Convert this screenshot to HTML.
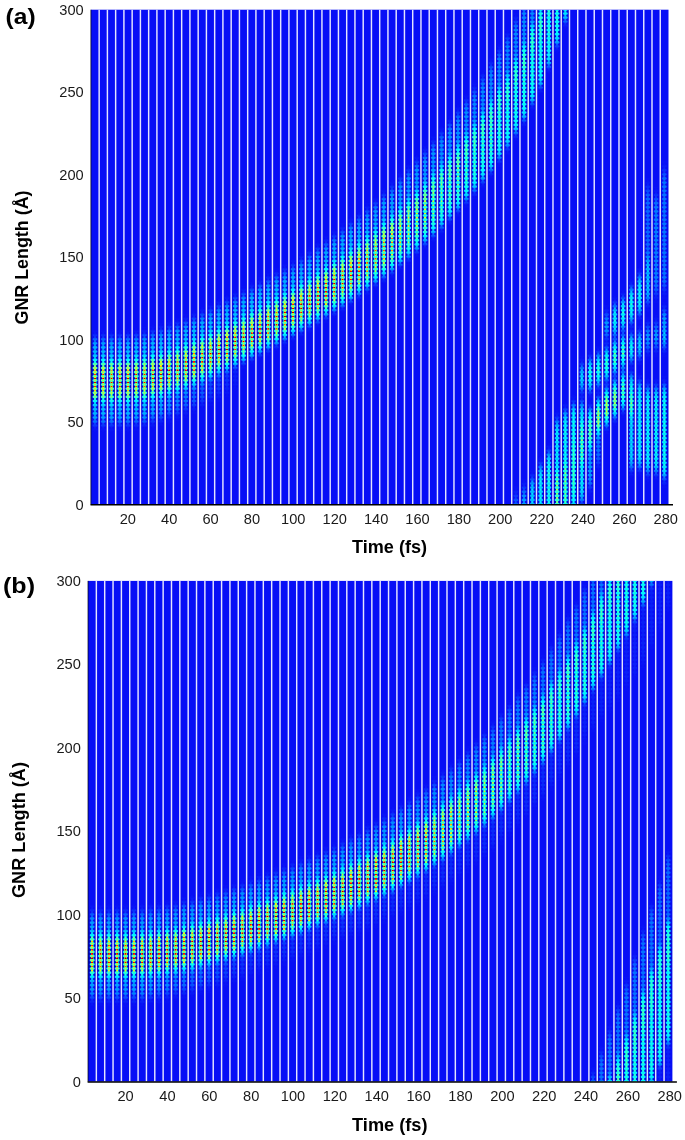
<!DOCTYPE html>
<html lang="en"><head><meta charset="utf-8"><title>GNR wave packet propagation</title>
<style>html,body{margin:0;padding:0;background:#fff}body{width:685px;height:1140px;overflow:hidden}svg{display:block}</style></head>
<body>
<svg width="685" height="1140" viewBox="0 0 685 1140">
<defs><g id="lca"><rect width="8.271" height="4.142" fill="#000"/><rect x="3.03" width="2" height="4.122" fill="#c8c8c8"/><ellipse cx="4.13" cy="1.03" rx="2.45" ry="1.4" fill="#fff"/></g><g id="kca"><ellipse cx="4.13" cy="3.09" rx="1.3" ry=".85" fill="#fff"/></g><g id="nca"><rect x=".7" width="1.03" height="4.142" fill="#5a5a5a"/><rect x="6.53" width="1.03" height="4.142" fill="#5a5a5a"/><rect x=".7" y="2.19" width="2.33" height="1.8" fill="#fff"/><rect x="5.23" y="2.19" width="2.33" height="1.8" fill="#fff"/></g><g id="lra"><use href="#lca" x="0"/><use href="#lca" x="8.251"/><use href="#lca" x="16.503"/><use href="#lca" x="24.754"/><use href="#lca" x="33.006"/><use href="#lca" x="41.257"/><use href="#lca" x="49.509"/><use href="#lca" x="57.76"/><use href="#lca" x="66.011"/><use href="#lca" x="74.263"/><use href="#lca" x="82.514"/><use href="#lca" x="90.766"/><use href="#lca" x="99.017"/><use href="#lca" x="107.269"/><use href="#lca" x="115.52"/><use href="#lca" x="123.771"/><use href="#lca" x="132.023"/><use href="#lca" x="140.274"/><use href="#lca" x="148.526"/><use href="#lca" x="156.777"/><use href="#lca" x="165.029"/><use href="#lca" x="173.28"/><use href="#lca" x="181.531"/><use href="#lca" x="189.783"/><use href="#lca" x="198.034"/><use href="#lca" x="206.286"/><use href="#lca" x="214.537"/><use href="#lca" x="222.789"/><use href="#lca" x="231.04"/><use href="#lca" x="239.291"/><use href="#lca" x="247.543"/><use href="#lca" x="255.794"/><use href="#lca" x="264.046"/><use href="#lca" x="272.297"/><use href="#lca" x="280.549"/><use href="#lca" x="288.8"/><use href="#lca" x="297.051"/><use href="#lca" x="305.303"/><use href="#lca" x="313.554"/><use href="#lca" x="321.806"/><use href="#lca" x="330.057"/><use href="#lca" x="338.309"/><use href="#lca" x="346.56"/><use href="#lca" x="354.811"/><use href="#lca" x="363.063"/><use href="#lca" x="371.314"/><use href="#lca" x="379.566"/><use href="#lca" x="387.817"/><use href="#lca" x="396.069"/><use href="#lca" x="404.32"/><use href="#lca" x="412.571"/><use href="#lca" x="420.823"/><use href="#lca" x="429.074"/><use href="#lca" x="437.326"/><use href="#lca" x="445.577"/><use href="#lca" x="453.829"/><use href="#lca" x="462.08"/><use href="#lca" x="470.331"/><use href="#lca" x="478.583"/><use href="#lca" x="486.834"/><use href="#lca" x="495.086"/><use href="#lca" x="503.337"/><use href="#lca" x="511.589"/><use href="#lca" x="519.84"/><use href="#lca" x="528.091"/><use href="#lca" x="536.343"/><use href="#lca" x="544.594"/><use href="#lca" x="552.846"/><use href="#lca" x="561.097"/><use href="#lca" x="569.349"/></g><g id="kra"><use href="#kca" x="0"/><use href="#kca" x="8.251"/><use href="#kca" x="16.503"/><use href="#kca" x="24.754"/><use href="#kca" x="33.006"/><use href="#kca" x="41.257"/><use href="#kca" x="49.509"/><use href="#kca" x="57.76"/><use href="#kca" x="66.011"/><use href="#kca" x="74.263"/><use href="#kca" x="82.514"/><use href="#kca" x="90.766"/><use href="#kca" x="99.017"/><use href="#kca" x="107.269"/><use href="#kca" x="115.52"/><use href="#kca" x="123.771"/><use href="#kca" x="132.023"/><use href="#kca" x="140.274"/><use href="#kca" x="148.526"/><use href="#kca" x="156.777"/><use href="#kca" x="165.029"/><use href="#kca" x="173.28"/><use href="#kca" x="181.531"/><use href="#kca" x="189.783"/><use href="#kca" x="198.034"/><use href="#kca" x="206.286"/><use href="#kca" x="214.537"/><use href="#kca" x="222.789"/><use href="#kca" x="231.04"/><use href="#kca" x="239.291"/><use href="#kca" x="247.543"/><use href="#kca" x="255.794"/><use href="#kca" x="264.046"/><use href="#kca" x="272.297"/><use href="#kca" x="280.549"/><use href="#kca" x="288.8"/><use href="#kca" x="297.051"/><use href="#kca" x="305.303"/><use href="#kca" x="313.554"/><use href="#kca" x="321.806"/><use href="#kca" x="330.057"/><use href="#kca" x="338.309"/><use href="#kca" x="346.56"/><use href="#kca" x="354.811"/><use href="#kca" x="363.063"/><use href="#kca" x="371.314"/><use href="#kca" x="379.566"/><use href="#kca" x="387.817"/><use href="#kca" x="396.069"/><use href="#kca" x="404.32"/><use href="#kca" x="412.571"/><use href="#kca" x="420.823"/><use href="#kca" x="429.074"/><use href="#kca" x="437.326"/><use href="#kca" x="445.577"/><use href="#kca" x="453.829"/><use href="#kca" x="462.08"/><use href="#kca" x="470.331"/><use href="#kca" x="478.583"/><use href="#kca" x="486.834"/><use href="#kca" x="495.086"/><use href="#kca" x="503.337"/><use href="#kca" x="511.589"/><use href="#kca" x="519.84"/><use href="#kca" x="528.091"/><use href="#kca" x="536.343"/><use href="#kca" x="544.594"/><use href="#kca" x="552.846"/><use href="#kca" x="561.097"/><use href="#kca" x="569.349"/></g><g id="nra"><use href="#nca" x="0"/><use href="#nca" x="8.251"/><use href="#nca" x="16.503"/><use href="#nca" x="24.754"/><use href="#nca" x="33.006"/><use href="#nca" x="41.257"/><use href="#nca" x="49.509"/><use href="#nca" x="57.76"/><use href="#nca" x="66.011"/><use href="#nca" x="74.263"/><use href="#nca" x="82.514"/><use href="#nca" x="90.766"/><use href="#nca" x="99.017"/><use href="#nca" x="107.269"/><use href="#nca" x="115.52"/><use href="#nca" x="123.771"/><use href="#nca" x="132.023"/><use href="#nca" x="140.274"/><use href="#nca" x="148.526"/><use href="#nca" x="156.777"/><use href="#nca" x="165.029"/><use href="#nca" x="173.28"/><use href="#nca" x="181.531"/><use href="#nca" x="189.783"/><use href="#nca" x="198.034"/><use href="#nca" x="206.286"/><use href="#nca" x="214.537"/><use href="#nca" x="222.789"/><use href="#nca" x="231.04"/><use href="#nca" x="239.291"/><use href="#nca" x="247.543"/><use href="#nca" x="255.794"/><use href="#nca" x="264.046"/><use href="#nca" x="272.297"/><use href="#nca" x="280.549"/><use href="#nca" x="288.8"/><use href="#nca" x="297.051"/><use href="#nca" x="305.303"/><use href="#nca" x="313.554"/><use href="#nca" x="321.806"/><use href="#nca" x="330.057"/><use href="#nca" x="338.309"/><use href="#nca" x="346.56"/><use href="#nca" x="354.811"/><use href="#nca" x="363.063"/><use href="#nca" x="371.314"/><use href="#nca" x="379.566"/><use href="#nca" x="387.817"/><use href="#nca" x="396.069"/><use href="#nca" x="404.32"/><use href="#nca" x="412.571"/><use href="#nca" x="420.823"/><use href="#nca" x="429.074"/><use href="#nca" x="437.326"/><use href="#nca" x="445.577"/><use href="#nca" x="453.829"/><use href="#nca" x="462.08"/><use href="#nca" x="470.331"/><use href="#nca" x="478.583"/><use href="#nca" x="486.834"/><use href="#nca" x="495.086"/><use href="#nca" x="503.337"/><use href="#nca" x="511.589"/><use href="#nca" x="519.84"/><use href="#nca" x="528.091"/><use href="#nca" x="536.343"/><use href="#nca" x="544.594"/><use href="#nca" x="552.846"/><use href="#nca" x="561.097"/><use href="#nca" x="569.349"/></g></defs>
<clipPath id="cpa"><rect x="90.9" y="9.7" width="577.6" height="494.8"/></clipPath>
<filter id="pba" filterUnits="userSpaceOnUse" x="-5" y="-5" width="587.6" height="504.8" color-interpolation-filters="sRGB"><feGaussianBlur stdDeviation=".26"/></filter>
<mask id="m1a" maskUnits="userSpaceOnUse" x="90.9" y="9.7" width="577.6" height="494.8"><g filter="url(#pba)" transform="translate(90.9 9.7)"><use href="#lra" y="-1.236"/><use href="#lra" y="2.885"/><use href="#lra" y="7.007"/><use href="#lra" y="11.128"/><use href="#lra" y="15.25"/><use href="#lra" y="19.371"/><use href="#lra" y="23.493"/><use href="#lra" y="27.615"/><use href="#lra" y="31.736"/><use href="#lra" y="35.858"/><use href="#lra" y="39.979"/><use href="#lra" y="44.101"/><use href="#lra" y="48.223"/><use href="#lra" y="52.344"/><use href="#lra" y="56.466"/><use href="#lra" y="60.587"/><use href="#lra" y="64.709"/><use href="#lra" y="68.83"/><use href="#lra" y="72.952"/><use href="#lra" y="77.074"/><use href="#lra" y="81.195"/><use href="#lra" y="85.317"/><use href="#lra" y="89.438"/><use href="#lra" y="93.56"/><use href="#lra" y="97.682"/><use href="#lra" y="101.803"/><use href="#lra" y="105.925"/><use href="#lra" y="110.046"/><use href="#lra" y="114.168"/><use href="#lra" y="118.289"/><use href="#lra" y="122.411"/><use href="#lra" y="126.533"/><use href="#lra" y="130.654"/><use href="#lra" y="134.776"/><use href="#lra" y="138.897"/><use href="#lra" y="143.019"/><use href="#lra" y="147.141"/><use href="#lra" y="151.262"/><use href="#lra" y="155.384"/><use href="#lra" y="159.505"/><use href="#lra" y="163.627"/><use href="#lra" y="167.749"/><use href="#lra" y="171.87"/><use href="#lra" y="175.992"/><use href="#lra" y="180.113"/><use href="#lra" y="184.235"/><use href="#lra" y="188.356"/><use href="#lra" y="192.478"/><use href="#lra" y="196.6"/><use href="#lra" y="200.721"/><use href="#lra" y="204.843"/><use href="#lra" y="208.964"/><use href="#lra" y="213.086"/><use href="#lra" y="217.208"/><use href="#lra" y="221.329"/><use href="#lra" y="225.451"/><use href="#lra" y="229.572"/><use href="#lra" y="233.694"/><use href="#lra" y="237.815"/><use href="#lra" y="241.937"/><use href="#lra" y="246.059"/><use href="#lra" y="250.18"/><use href="#lra" y="254.302"/><use href="#lra" y="258.423"/><use href="#lra" y="262.545"/><use href="#lra" y="266.667"/><use href="#lra" y="270.788"/><use href="#lra" y="274.91"/><use href="#lra" y="279.031"/><use href="#lra" y="283.153"/><use href="#lra" y="287.274"/><use href="#lra" y="291.396"/><use href="#lra" y="295.518"/><use href="#lra" y="299.639"/><use href="#lra" y="303.761"/><use href="#lra" y="307.882"/><use href="#lra" y="312.004"/><use href="#lra" y="316.126"/><use href="#lra" y="320.247"/><use href="#lra" y="324.369"/><use href="#lra" y="328.49"/><use href="#lra" y="332.612"/><use href="#lra" y="336.733"/><use href="#lra" y="340.855"/><use href="#lra" y="344.977"/><use href="#lra" y="349.098"/><use href="#lra" y="353.22"/><use href="#lra" y="357.341"/><use href="#lra" y="361.463"/><use href="#lra" y="365.585"/><use href="#lra" y="369.706"/><use href="#lra" y="373.828"/><use href="#lra" y="377.949"/><use href="#lra" y="382.071"/><use href="#lra" y="386.192"/><use href="#lra" y="390.314"/><use href="#lra" y="394.436"/><use href="#lra" y="398.557"/><use href="#lra" y="402.679"/><use href="#lra" y="406.8"/><use href="#lra" y="410.922"/><use href="#lra" y="415.044"/><use href="#lra" y="419.165"/><use href="#lra" y="423.287"/><use href="#lra" y="427.408"/><use href="#lra" y="431.53"/><use href="#lra" y="435.652"/><use href="#lra" y="439.773"/><use href="#lra" y="443.895"/><use href="#lra" y="448.016"/><use href="#lra" y="452.138"/><use href="#lra" y="456.259"/><use href="#lra" y="460.381"/><use href="#lra" y="464.503"/><use href="#lra" y="468.624"/><use href="#lra" y="472.746"/><use href="#lra" y="476.867"/><use href="#lra" y="480.989"/><use href="#lra" y="485.111"/><use href="#lra" y="489.232"/><use href="#lra" y="493.354"/><use href="#lra" y="497.475"/></g></mask>
<mask id="m2a" maskUnits="userSpaceOnUse" x="90.9" y="9.7" width="577.6" height="494.8"><g filter="url(#pba)" transform="translate(90.9 9.7)"><use href="#kra" y="-1.236"/><use href="#kra" y="2.885"/><use href="#kra" y="7.007"/><use href="#kra" y="11.128"/><use href="#kra" y="15.25"/><use href="#kra" y="19.371"/><use href="#kra" y="23.493"/><use href="#kra" y="27.615"/><use href="#kra" y="31.736"/><use href="#kra" y="35.858"/><use href="#kra" y="39.979"/><use href="#kra" y="44.101"/><use href="#kra" y="48.223"/><use href="#kra" y="52.344"/><use href="#kra" y="56.466"/><use href="#kra" y="60.587"/><use href="#kra" y="64.709"/><use href="#kra" y="68.83"/><use href="#kra" y="72.952"/><use href="#kra" y="77.074"/><use href="#kra" y="81.195"/><use href="#kra" y="85.317"/><use href="#kra" y="89.438"/><use href="#kra" y="93.56"/><use href="#kra" y="97.682"/><use href="#kra" y="101.803"/><use href="#kra" y="105.925"/><use href="#kra" y="110.046"/><use href="#kra" y="114.168"/><use href="#kra" y="118.289"/><use href="#kra" y="122.411"/><use href="#kra" y="126.533"/><use href="#kra" y="130.654"/><use href="#kra" y="134.776"/><use href="#kra" y="138.897"/><use href="#kra" y="143.019"/><use href="#kra" y="147.141"/><use href="#kra" y="151.262"/><use href="#kra" y="155.384"/><use href="#kra" y="159.505"/><use href="#kra" y="163.627"/><use href="#kra" y="167.749"/><use href="#kra" y="171.87"/><use href="#kra" y="175.992"/><use href="#kra" y="180.113"/><use href="#kra" y="184.235"/><use href="#kra" y="188.356"/><use href="#kra" y="192.478"/><use href="#kra" y="196.6"/><use href="#kra" y="200.721"/><use href="#kra" y="204.843"/><use href="#kra" y="208.964"/><use href="#kra" y="213.086"/><use href="#kra" y="217.208"/><use href="#kra" y="221.329"/><use href="#kra" y="225.451"/><use href="#kra" y="229.572"/><use href="#kra" y="233.694"/><use href="#kra" y="237.815"/><use href="#kra" y="241.937"/><use href="#kra" y="246.059"/><use href="#kra" y="250.18"/><use href="#kra" y="254.302"/><use href="#kra" y="258.423"/><use href="#kra" y="262.545"/><use href="#kra" y="266.667"/><use href="#kra" y="270.788"/><use href="#kra" y="274.91"/><use href="#kra" y="279.031"/><use href="#kra" y="283.153"/><use href="#kra" y="287.274"/><use href="#kra" y="291.396"/><use href="#kra" y="295.518"/><use href="#kra" y="299.639"/><use href="#kra" y="303.761"/><use href="#kra" y="307.882"/><use href="#kra" y="312.004"/><use href="#kra" y="316.126"/><use href="#kra" y="320.247"/><use href="#kra" y="324.369"/><use href="#kra" y="328.49"/><use href="#kra" y="332.612"/><use href="#kra" y="336.733"/><use href="#kra" y="340.855"/><use href="#kra" y="344.977"/><use href="#kra" y="349.098"/><use href="#kra" y="353.22"/><use href="#kra" y="357.341"/><use href="#kra" y="361.463"/><use href="#kra" y="365.585"/><use href="#kra" y="369.706"/><use href="#kra" y="373.828"/><use href="#kra" y="377.949"/><use href="#kra" y="382.071"/><use href="#kra" y="386.192"/><use href="#kra" y="390.314"/><use href="#kra" y="394.436"/><use href="#kra" y="398.557"/><use href="#kra" y="402.679"/><use href="#kra" y="406.8"/><use href="#kra" y="410.922"/><use href="#kra" y="415.044"/><use href="#kra" y="419.165"/><use href="#kra" y="423.287"/><use href="#kra" y="427.408"/><use href="#kra" y="431.53"/><use href="#kra" y="435.652"/><use href="#kra" y="439.773"/><use href="#kra" y="443.895"/><use href="#kra" y="448.016"/><use href="#kra" y="452.138"/><use href="#kra" y="456.259"/><use href="#kra" y="460.381"/><use href="#kra" y="464.503"/><use href="#kra" y="468.624"/><use href="#kra" y="472.746"/><use href="#kra" y="476.867"/><use href="#kra" y="480.989"/><use href="#kra" y="485.111"/><use href="#kra" y="489.232"/><use href="#kra" y="493.354"/><use href="#kra" y="497.475"/></g></mask>
<mask id="m3a" maskUnits="userSpaceOnUse" x="90.9" y="9.7" width="577.6" height="494.8"><g filter="url(#pba)" transform="translate(90.9 9.7)"><use href="#nra" y="-1.236"/><use href="#nra" y="2.885"/><use href="#nra" y="7.007"/><use href="#nra" y="11.128"/><use href="#nra" y="15.25"/><use href="#nra" y="19.371"/><use href="#nra" y="23.493"/><use href="#nra" y="27.615"/><use href="#nra" y="31.736"/><use href="#nra" y="35.858"/><use href="#nra" y="39.979"/><use href="#nra" y="44.101"/><use href="#nra" y="48.223"/><use href="#nra" y="52.344"/><use href="#nra" y="56.466"/><use href="#nra" y="60.587"/><use href="#nra" y="64.709"/><use href="#nra" y="68.83"/><use href="#nra" y="72.952"/><use href="#nra" y="77.074"/><use href="#nra" y="81.195"/><use href="#nra" y="85.317"/><use href="#nra" y="89.438"/><use href="#nra" y="93.56"/><use href="#nra" y="97.682"/><use href="#nra" y="101.803"/><use href="#nra" y="105.925"/><use href="#nra" y="110.046"/><use href="#nra" y="114.168"/><use href="#nra" y="118.289"/><use href="#nra" y="122.411"/><use href="#nra" y="126.533"/><use href="#nra" y="130.654"/><use href="#nra" y="134.776"/><use href="#nra" y="138.897"/><use href="#nra" y="143.019"/><use href="#nra" y="147.141"/><use href="#nra" y="151.262"/><use href="#nra" y="155.384"/><use href="#nra" y="159.505"/><use href="#nra" y="163.627"/><use href="#nra" y="167.749"/><use href="#nra" y="171.87"/><use href="#nra" y="175.992"/><use href="#nra" y="180.113"/><use href="#nra" y="184.235"/><use href="#nra" y="188.356"/><use href="#nra" y="192.478"/><use href="#nra" y="196.6"/><use href="#nra" y="200.721"/><use href="#nra" y="204.843"/><use href="#nra" y="208.964"/><use href="#nra" y="213.086"/><use href="#nra" y="217.208"/><use href="#nra" y="221.329"/><use href="#nra" y="225.451"/><use href="#nra" y="229.572"/><use href="#nra" y="233.694"/><use href="#nra" y="237.815"/><use href="#nra" y="241.937"/><use href="#nra" y="246.059"/><use href="#nra" y="250.18"/><use href="#nra" y="254.302"/><use href="#nra" y="258.423"/><use href="#nra" y="262.545"/><use href="#nra" y="266.667"/><use href="#nra" y="270.788"/><use href="#nra" y="274.91"/><use href="#nra" y="279.031"/><use href="#nra" y="283.153"/><use href="#nra" y="287.274"/><use href="#nra" y="291.396"/><use href="#nra" y="295.518"/><use href="#nra" y="299.639"/><use href="#nra" y="303.761"/><use href="#nra" y="307.882"/><use href="#nra" y="312.004"/><use href="#nra" y="316.126"/><use href="#nra" y="320.247"/><use href="#nra" y="324.369"/><use href="#nra" y="328.49"/><use href="#nra" y="332.612"/><use href="#nra" y="336.733"/><use href="#nra" y="340.855"/><use href="#nra" y="344.977"/><use href="#nra" y="349.098"/><use href="#nra" y="353.22"/><use href="#nra" y="357.341"/><use href="#nra" y="361.463"/><use href="#nra" y="365.585"/><use href="#nra" y="369.706"/><use href="#nra" y="373.828"/><use href="#nra" y="377.949"/><use href="#nra" y="382.071"/><use href="#nra" y="386.192"/><use href="#nra" y="390.314"/><use href="#nra" y="394.436"/><use href="#nra" y="398.557"/><use href="#nra" y="402.679"/><use href="#nra" y="406.8"/><use href="#nra" y="410.922"/><use href="#nra" y="415.044"/><use href="#nra" y="419.165"/><use href="#nra" y="423.287"/><use href="#nra" y="427.408"/><use href="#nra" y="431.53"/><use href="#nra" y="435.652"/><use href="#nra" y="439.773"/><use href="#nra" y="443.895"/><use href="#nra" y="448.016"/><use href="#nra" y="452.138"/><use href="#nra" y="456.259"/><use href="#nra" y="460.381"/><use href="#nra" y="464.503"/><use href="#nra" y="468.624"/><use href="#nra" y="472.746"/><use href="#nra" y="476.867"/><use href="#nra" y="480.989"/><use href="#nra" y="485.111"/><use href="#nra" y="489.232"/><use href="#nra" y="493.354"/><use href="#nra" y="497.475"/></g></mask>
<filter id="v1a" filterUnits="userSpaceOnUse" x="85.9" y="-190.3" width="587.6" height="894.8" color-interpolation-filters="sRGB"><feGaussianBlur stdDeviation="0 5"/></filter>
<filter id="v2a" filterUnits="userSpaceOnUse" x="85.9" y="-190.3" width="587.6" height="894.8" color-interpolation-filters="sRGB"><feGaussianBlur stdDeviation="0 6"/></filter>
<filter id="vea" filterUnits="userSpaceOnUse" x="85.9" y="-190.3" width="587.6" height="894.8" color-interpolation-filters="sRGB"><feGaussianBlur stdDeviation="0 5.5"/></filter>
<filter id="jeta" filterUnits="userSpaceOnUse" x="87.9" y="6.7" width="583.6" height="500.8" color-interpolation-filters="sRGB"><feComponentTransfer><feFuncR type="table" tableValues=".031 .034 .037 .039 .037 .035 .033 .031 .025 .019 .013 .006 0 0 0 0 0 0 0 0 0 0 0 0 0 0 0 0 0 0 0 .02 .039 .059 .078 .098 .118 .137 .157 .191 .225 .26 .294 .328 .363 .397 .431 .466 .501 .536 .571 .606 .641 .675 .71 .745 .777 .809 .841 .873 .904 .936 .968 1 1 1 1 1 1 1 1 1 1 1 1 1 1 1 1 1 1 1 1 1 1 1 1 1 .98 .961 .941 .922 .902 .882 .863 .817 .771 .725 .68 .634 .588"/><feFuncG type="table" tableValues=".055 .089 .123 .157 .198 .239 .28 .322 .363 .405 .446 .488 .529 .559 .588 .618 .647 .676 .706 .735 .765 .784 .804 .824 .843 .863 .882 .902 .922 .941 .961 .966 .971 .975 .98 .985 .99 .995 1 1 1 1 1 1 1 1 1 1 1 1 1 1 1 1 1 1 .993 .985 .978 .971 .963 .956 .949 .941 .908 .876 .843 .81 .778 .745 .712 .68 .647 .614 .582 .549 .513 .477 .441 .405 .369 .333 .297 .261 .225 .19 .154 .118 .101 .084 .067 .05 .034 .017 0 0 0 0 0 0 0"/><feFuncB type="table" tableValues=".965 .97 .975 .98 .985 .99 .995 1 1 1 1 1 1 1 1 1 1 1 1 1 1 1 1 1 1 1 1 1 1 1 1 .98 .961 .941 .922 .902 .882 .863 .843 .809 .775 .74 .706 .672 .637 .603 .569 .534 .499 .464 .429 .394 .359 .325 .29 .255 .223 .191 .159 .127 .096 .064 .032 0 0 0 0 0 0 0 0 0 0 0 0 0 0 0 0 0 0 0 0 0 0 0 0 0 0 0 0 0 0 0 0 0 0 0 0 0 0"/></feComponentTransfer><feGaussianBlur stdDeviation=".68"/></filter>
<g filter="url(#jeta)">
<rect x="90.9" y="9.7" width="577.6" height="494.8" fill="#000"/>
<g mask="url(#m1a)"><g clip-path="url(#cpa)" fill="#fff"><g id="cha"><g filter="url(#v1a)">
<rect x="90.9" y="362.1" width="8.25" height="37.3" opacity=".47"/>
<rect x="90.9" y="339.5" width="8.25" height="32.7" opacity=".18"/>
<rect x="90.9" y="389.4" width="8.25" height="32.7" opacity=".18"/>
<rect x="99.15" y="362.1" width="8.25" height="37.4" opacity=".47"/>
<rect x="99.15" y="339.4" width="8.25" height="32.8" opacity=".18"/>
<rect x="99.15" y="389.4" width="8.25" height="32.8" opacity=".18"/>
<rect x="107.4" y="362.1" width="8.25" height="37.5" opacity=".47"/>
<rect x="107.4" y="339.3" width="8.25" height="32.9" opacity=".18"/>
<rect x="107.4" y="389.4" width="8.25" height="32.9" opacity=".18"/>
<rect x="115.65" y="361.9" width="8.25" height="37.5" opacity=".47"/>
<rect x="115.65" y="339.1" width="8.25" height="32.9" opacity=".18"/>
<rect x="115.65" y="389.2" width="8.25" height="32.9" opacity=".18"/>
<rect x="123.91" y="361.7" width="8.25" height="37.6" opacity=".46"/>
<rect x="123.91" y="338.9" width="8.25" height="33" opacity=".18"/>
<rect x="123.91" y="389.1" width="8.25" height="33" opacity=".18"/>
<rect x="132.16" y="360.7" width="8.25" height="37.7" opacity=".46"/>
<rect x="132.16" y="337.9" width="8.25" height="33.1" opacity=".18"/>
<rect x="132.16" y="388.2" width="8.25" height="33.1" opacity=".18"/>
<rect x="140.41" y="359.8" width="8.25" height="37.8" opacity=".46"/>
<rect x="140.41" y="336.9" width="8.25" height="33.1" opacity=".18"/>
<rect x="140.41" y="387.3" width="8.25" height="33.1" opacity=".18"/>
<rect x="148.66" y="357.8" width="8.25" height="37.8" opacity=".46"/>
<rect x="148.66" y="334.9" width="8.25" height="33.2" opacity=".18"/>
<rect x="148.66" y="385.4" width="8.25" height="33.2" opacity=".16"/>
<rect x="156.91" y="355.9" width="8.25" height="37.9" opacity=".46"/>
<rect x="156.91" y="333" width="8.25" height="33.3" opacity=".18"/>
<rect x="156.91" y="383.5" width="8.25" height="33.3" opacity=".15"/>
<rect x="165.16" y="353.2" width="8.25" height="38" opacity=".46"/>
<rect x="165.16" y="330.2" width="8.25" height="33.3" opacity=".18"/>
<rect x="165.16" y="380.9" width="8.25" height="33.3" opacity=".13"/>
<rect x="173.41" y="350.6" width="8.25" height="38.1" opacity=".46"/>
<rect x="173.41" y="327.5" width="8.25" height="33.4" opacity=".18"/>
<rect x="173.41" y="378.2" width="8.25" height="33.4" opacity=".12"/>
<rect x="181.67" y="347.1" width="8.25" height="38.1" opacity=".46"/>
<rect x="181.67" y="324.1" width="8.25" height="33.5" opacity=".18"/>
<rect x="181.67" y="374.9" width="8.25" height="33.5" opacity=".11"/>
<rect x="189.92" y="343.7" width="8.25" height="38.2" opacity=".46"/>
<rect x="189.92" y="320.6" width="8.25" height="33.6" opacity=".18"/>
<rect x="189.92" y="371.5" width="8.25" height="33.6" opacity=".09"/>
<rect x="198.17" y="339.9" width="8.25" height="38.3" opacity=".46"/>
<rect x="198.17" y="316.7" width="8.25" height="33.6" opacity=".18"/>
<rect x="198.17" y="367.7" width="8.25" height="33.6" opacity=".08"/>
<rect x="206.42" y="336.1" width="8.25" height="38.4" opacity=".46"/>
<rect x="206.42" y="312.9" width="8.25" height="33.7" opacity=".18"/>
<rect x="206.42" y="363.9" width="8.25" height="33.7" opacity=".06"/>
<rect x="214.67" y="332" width="8.25" height="38.4" opacity=".46"/>
<rect x="214.67" y="308.8" width="8.25" height="33.8" opacity=".18"/>
<rect x="214.67" y="359.9" width="8.25" height="33.8" opacity=".05"/>
<rect x="222.92" y="327.9" width="8.25" height="38.5" opacity=".46"/>
<rect x="222.92" y="304.6" width="8.25" height="33.8" opacity=".18"/>
<rect x="222.92" y="355.8" width="8.25" height="33.8" opacity=".04"/>
<rect x="231.17" y="323.7" width="8.25" height="38.6" opacity=".46"/>
<rect x="231.17" y="300.4" width="8.25" height="33.9" opacity=".18"/>
<rect x="231.17" y="351.6" width="8.25" height="33.9" opacity=".02"/>
<rect x="239.43" y="319.4" width="8.25" height="38.7" opacity=".46"/>
<rect x="239.43" y="296.1" width="8.25" height="34" opacity=".18"/>
<rect x="247.68" y="315" width="8.25" height="38.7" opacity=".46"/>
<rect x="247.68" y="291.6" width="8.25" height="34" opacity=".18"/>
<rect x="255.93" y="310.6" width="8.25" height="38.8" opacity=".46"/>
<rect x="255.93" y="287.2" width="8.25" height="34.1" opacity=".18"/>
<rect x="264.18" y="306.1" width="8.25" height="38.9" opacity=".46"/>
<rect x="264.18" y="282.6" width="8.25" height="34.2" opacity=".18"/>
<rect x="272.43" y="301.6" width="8.25" height="39" opacity=".46"/>
<rect x="272.43" y="278.1" width="8.25" height="34.2" opacity=".18"/>
<rect x="280.68" y="296.9" width="8.25" height="39" opacity=".46"/>
<rect x="280.68" y="273.3" width="8.25" height="34.3" opacity=".17"/>
<rect x="288.93" y="292.1" width="8.25" height="39.1" opacity=".46"/>
<rect x="288.93" y="268.6" width="8.25" height="34.4" opacity=".17"/>
<rect x="297.19" y="286.8" width="8.25" height="39.8" opacity=".46"/>
<rect x="297.19" y="262.9" width="8.25" height="35" opacity=".17"/>
<rect x="305.44" y="281.5" width="8.25" height="40.6" opacity=".46"/>
<rect x="305.44" y="257.2" width="8.25" height="35.7" opacity=".17"/>
<rect x="313.69" y="276" width="8.25" height="41.3" opacity=".45"/>
<rect x="313.69" y="251.3" width="8.25" height="36.4" opacity=".17"/>
<rect x="321.94" y="270.4" width="8.25" height="42" opacity=".45"/>
<rect x="321.94" y="245.4" width="8.25" height="37" opacity=".17"/>
<rect x="330.19" y="264.5" width="8.25" height="42.7" opacity=".45"/>
<rect x="330.19" y="239.1" width="8.25" height="37.7" opacity=".17"/>
<rect x="338.44" y="258.7" width="8.25" height="43.4" opacity=".44"/>
<rect x="338.44" y="232.9" width="8.25" height="38.3" opacity=".17"/>
<rect x="346.69" y="252.4" width="8.25" height="44.1" opacity=".44"/>
<rect x="346.69" y="226.3" width="8.25" height="39" opacity=".17"/>
<rect x="354.95" y="246.2" width="8.25" height="44.8" opacity=".43"/>
<rect x="354.95" y="219.7" width="8.25" height="39.6" opacity=".16"/>
<rect x="363.2" y="239.7" width="8.25" height="45.5" opacity=".43"/>
<rect x="363.2" y="212.8" width="8.25" height="40.3" opacity=".16"/>
<rect x="371.45" y="233.2" width="8.25" height="46.2" opacity=".42"/>
<rect x="371.45" y="205.9" width="8.25" height="40.9" opacity=".16"/>
<rect x="379.7" y="225.9" width="8.25" height="47.5" opacity=".42"/>
<rect x="379.7" y="198" width="8.25" height="42" opacity=".16"/>
<rect x="387.95" y="218.6" width="8.25" height="48.7" opacity=".41"/>
<rect x="387.95" y="190" width="8.25" height="43.2" opacity=".15"/>
<rect x="396.2" y="210.8" width="8.25" height="49.9" opacity=".4"/>
<rect x="396.2" y="181.6" width="8.25" height="44.3" opacity=".15"/>
<rect x="404.45" y="203" width="8.25" height="51.1" opacity=".39"/>
<rect x="404.45" y="173.2" width="8.25" height="45.4" opacity=".15"/>
<rect x="412.71" y="194.6" width="8.25" height="52.3" opacity=".38"/>
<rect x="412.71" y="164.1" width="8.25" height="46.5" opacity=".14"/>
<rect x="420.96" y="186.1" width="8.25" height="53.5" opacity=".37"/>
<rect x="420.96" y="155" width="8.25" height="47.6" opacity=".14"/>
<rect x="429.21" y="177.1" width="8.25" height="54.8" opacity=".36"/>
<rect x="429.21" y="145.3" width="8.25" height="48.7" opacity=".14"/>
<rect x="437.46" y="168.1" width="8.25" height="56" opacity=".35"/>
<rect x="437.46" y="135.7" width="8.25" height="49.8" opacity=".13"/>
<rect x="445.71" y="158.3" width="8.25" height="57.2" opacity=".35"/>
<rect x="445.71" y="125.2" width="8.25" height="50.9" opacity=".13"/>
<rect x="453.96" y="148.4" width="8.25" height="58.4" opacity=".34"/>
<rect x="453.96" y="114.7" width="8.25" height="52" opacity=".13"/>
<rect x="462.21" y="137.7" width="8.25" height="59.8" opacity=".33"/>
<rect x="462.21" y="103.2" width="8.25" height="53.3" opacity=".13"/>
<rect x="470.47" y="127" width="8.25" height="61.2" opacity=".33"/>
<rect x="470.47" y="91.8" width="8.25" height="54.6" opacity=".12"/>
<rect x="478.72" y="115.4" width="8.25" height="62.6" opacity=".32"/>
<rect x="478.72" y="79.3" width="8.25" height="55.9" opacity=".12"/>
<rect x="486.97" y="103.7" width="8.25" height="64.1" opacity=".32"/>
<rect x="486.97" y="66.9" width="8.25" height="57.2" opacity=".12"/>
<rect x="495.22" y="90.6" width="8.25" height="65.5" opacity=".32"/>
<rect x="495.22" y="53" width="8.25" height="58.5" opacity=".12"/>
<rect x="503.47" y="77.5" width="8.25" height="66.9" opacity=".31"/>
<rect x="503.47" y="39.2" width="8.25" height="59.7" opacity=".12"/>
<rect x="511.72" y="61.9" width="8.25" height="68.9" opacity=".31"/>
<rect x="511.72" y="22.5" width="8.25" height="61.6" opacity=".12"/>
<rect x="519.97" y="46.3" width="8.25" height="71" opacity=".31"/>
<rect x="519.97" y="5.8" width="8.25" height="63.4" opacity=".12"/>
<rect x="528.23" y="27.6" width="8.25" height="73" opacity=".31"/>
<rect x="528.23" y="-14" width="8.25" height="65.3" opacity=".12"/>
<rect x="536.48" y="9" width="8.25" height="75" opacity=".31"/>
<rect x="536.48" y="-33.8" width="8.25" height="67.1" opacity=".12"/>
<rect x="544.73" y="-13.5" width="8.25" height="77.1" opacity=".3"/>
<rect x="544.73" y="-57.3" width="8.25" height="68.9" opacity=".12"/>
<rect x="552.98" y="-34.9" width="8.25" height="77.1" opacity=".3"/>
<rect x="552.98" y="-78.8" width="8.25" height="68.9" opacity=".12"/>
<rect x="561.23" y="-58.3" width="8.25" height="77.1" opacity=".3"/>
<rect x="561.23" y="-102.1" width="8.25" height="68.9" opacity=".12"/>
<rect x="569.48" y="-81.6" width="8.25" height="77.1" opacity=".3"/>
<rect x="569.48" y="-125.4" width="8.25" height="68.9" opacity=".12"/>
<rect x="577.73" y="-81.6" width="8.25" height="77.1" opacity=".3"/>
<rect x="577.73" y="-125.4" width="8.25" height="68.9" opacity=".12"/>
</g>
<g filter="url(#vea)">
<rect x="511.72" y="495.9" width="8.25" height="20.1" opacity=".09"/>
<rect x="519.97" y="490.5" width="8.25" height="28.9" opacity=".15"/>
<rect x="528.23" y="480.7" width="8.25" height="44.6" opacity=".19"/>
<rect x="536.48" y="467.7" width="8.25" height="66.6" opacity=".23"/>
<rect x="544.73" y="455" width="8.25" height="88" opacity=".27"/>
<rect x="552.98" y="473.7" width="8.25" height="44.6" opacity=".22"/>
<rect x="552.98" y="421.9" width="8.25" height="116.2" opacity=".22"/>
<rect x="561.23" y="463.7" width="8.25" height="44.6" opacity=".16"/>
<rect x="561.23" y="413.4" width="8.25" height="109.2" opacity=".26"/>
<rect x="569.48" y="442" width="8.25" height="52" opacity=".13"/>
<rect x="569.48" y="406.9" width="8.25" height="102.2" opacity=".27"/>
<rect x="577.73" y="423.6" width="8.25" height="40.8" opacity=".19"/>
<rect x="577.73" y="404.4" width="8.25" height="95.1" opacity=".22"/>
<rect x="577.73" y="367.9" width="8.25" height="20.1" opacity=".2"/>
<rect x="585.99" y="413.5" width="8.25" height="33" opacity=".29"/>
<rect x="585.99" y="411.1" width="8.25" height="73.8" opacity=".14"/>
<rect x="585.99" y="362.7" width="8.25" height="24.7" opacity=".3"/>
<rect x="594.24" y="402.5" width="8.25" height="28.9" opacity=".42"/>
<rect x="594.24" y="410" width="8.25" height="52" opacity=".1"/>
<rect x="594.24" y="357.7" width="8.25" height="24.7" opacity=".32"/>
<rect x="602.49" y="392.5" width="8.25" height="28.9" opacity=".49"/>
<rect x="602.49" y="351.7" width="8.25" height="24.7" opacity=".34"/>
<rect x="602.49" y="315.9" width="8.25" height="20.1" opacity=".15"/>
<rect x="610.74" y="384.5" width="8.25" height="28.9" opacity=".45"/>
<rect x="610.74" y="344.7" width="8.25" height="24.7" opacity=".37"/>
<rect x="610.74" y="307.7" width="8.25" height="24.7" opacity=".25"/>
<rect x="618.99" y="376.5" width="8.25" height="28.9" opacity=".36"/>
<rect x="618.99" y="339.7" width="8.25" height="24.7" opacity=".35"/>
<rect x="618.99" y="301.7" width="8.25" height="24.7" opacity=".28"/>
<rect x="627.24" y="377.5" width="8.25" height="36.9" opacity=".26"/>
<rect x="627.24" y="393.1" width="8.25" height="73.8" opacity=".19"/>
<rect x="627.24" y="337.9" width="8.25" height="20.1" opacity=".28"/>
<rect x="627.24" y="290.5" width="8.25" height="28.9" opacity=".28"/>
<rect x="635.49" y="384.5" width="8.25" height="80.9" opacity=".24"/>
<rect x="635.49" y="334.9" width="8.25" height="20.1" opacity=".2"/>
<rect x="635.49" y="278.5" width="8.25" height="33" opacity=".25"/>
<rect x="643.75" y="389.5" width="8.25" height="80.9" opacity=".24"/>
<rect x="643.75" y="327.9" width="8.25" height="20.1" opacity=".15"/>
<rect x="643.75" y="259.6" width="8.25" height="40.8" opacity=".16"/>
<rect x="643.75" y="188.1" width="8.25" height="73.8" opacity=".09"/>
<rect x="652" y="389.5" width="8.25" height="80.9" opacity=".24"/>
<rect x="652" y="325.9" width="8.25" height="20.1" opacity=".15"/>
<rect x="652" y="197.4" width="8.25" height="95.1" opacity=".11"/>
<rect x="660.25" y="388" width="8.25" height="88" opacity=".27"/>
<rect x="660.25" y="325.9" width="8.25" height="20.1" opacity=".17"/>
<rect x="660.25" y="313.2" width="8.25" height="9.6" opacity=".21"/>
<rect x="660.25" y="171.9" width="8.25" height="116.2" opacity=".1"/>
</g>
</g></g></g>
<g mask="url(#m2a)"><g clip-path="url(#cpa)" fill="#fff"><g filter="url(#v2a)">
<rect x="90.9" y="370.4" width="8.25" height="20.9" opacity="1"/>
<rect x="99.15" y="370.3" width="8.25" height="20.9" opacity="1"/>
<rect x="107.4" y="370.3" width="8.25" height="21" opacity="1"/>
<rect x="115.65" y="370.1" width="8.25" height="21.1" opacity="1"/>
<rect x="123.91" y="369.9" width="8.25" height="21.1" opacity="1"/>
<rect x="132.16" y="369" width="8.25" height="21.2" opacity="1"/>
<rect x="140.41" y="368" width="8.25" height="21.3" opacity="1"/>
<rect x="148.66" y="366.1" width="8.25" height="21.3" opacity="1"/>
<rect x="156.91" y="364.2" width="8.25" height="21.4" opacity="1"/>
<rect x="165.16" y="361.5" width="8.25" height="21.5" opacity="1"/>
<rect x="173.41" y="358.8" width="8.25" height="21.5" opacity="1"/>
<rect x="181.67" y="355.4" width="8.25" height="21.6" opacity="1"/>
<rect x="189.92" y="352" width="8.25" height="21.7" opacity="1"/>
<rect x="198.17" y="348.2" width="8.25" height="21.7" opacity="1"/>
<rect x="206.42" y="344.3" width="8.25" height="21.8" opacity="1"/>
<rect x="214.67" y="340.3" width="8.25" height="21.9" opacity="1"/>
<rect x="222.92" y="336.2" width="8.25" height="22" opacity="1"/>
<rect x="231.17" y="331.9" width="8.25" height="22" opacity="1"/>
<rect x="239.43" y="327.7" width="8.25" height="22.1" opacity="1"/>
<rect x="247.68" y="323.3" width="8.25" height="22.2" opacity="1"/>
<rect x="255.93" y="318.9" width="8.25" height="22.2" opacity="1"/>
<rect x="264.18" y="314.4" width="8.25" height="22.3" opacity="1"/>
<rect x="272.43" y="309.9" width="8.25" height="22.4" opacity="1"/>
<rect x="280.68" y="305.2" width="8.25" height="22.4" opacity="1"/>
<rect x="288.93" y="300.4" width="8.25" height="22.5" opacity="1"/>
<rect x="297.19" y="295.2" width="8.25" height="23.1" opacity="1"/>
<rect x="305.44" y="289.9" width="8.25" height="23.8" opacity="1"/>
<rect x="313.69" y="284.4" width="8.25" height="24.4" opacity="1"/>
<rect x="321.94" y="278.9" width="8.25" height="25" opacity="1"/>
<rect x="330.19" y="273.1" width="8.25" height="25.6" opacity=".98"/>
<rect x="338.44" y="267.3" width="8.25" height="26.2" opacity=".95"/>
<rect x="346.69" y="261.1" width="8.25" height="26.8" opacity=".91"/>
<rect x="354.95" y="254.9" width="8.25" height="27.4" opacity=".86"/>
<rect x="363.2" y="248.5" width="8.25" height="28" opacity=".81"/>
<rect x="371.45" y="242" width="8.25" height="28.6" opacity=".77"/>
<rect x="379.7" y="234.8" width="8.25" height="29.6" opacity=".73"/>
<rect x="387.95" y="227.6" width="8.25" height="30.6" opacity=".66"/>
<rect x="396.2" y="220" width="8.25" height="31.6" opacity=".59"/>
<rect x="404.45" y="212.3" width="8.25" height="32.6" opacity=".53"/>
<rect x="412.71" y="204" width="8.25" height="33.5" opacity=".48"/>
<rect x="420.96" y="195.6" width="8.25" height="34.5" opacity=".44"/>
<rect x="429.21" y="186.8" width="8.25" height="35.5" opacity=".41"/>
<rect x="437.46" y="177.9" width="8.25" height="36.4" opacity=".37"/>
<rect x="445.71" y="168.2" width="8.25" height="37.4" opacity=".34"/>
<rect x="453.96" y="158.5" width="8.25" height="38.3" opacity=".31"/>
<rect x="462.21" y="147.9" width="8.25" height="39.4" opacity=".29"/>
<rect x="470.47" y="137.4" width="8.25" height="40.5" opacity=".28"/>
<rect x="478.72" y="125.9" width="8.25" height="41.6" opacity=".26"/>
<rect x="486.97" y="114.4" width="8.25" height="42.7" opacity=".25"/>
<rect x="495.22" y="101.4" width="8.25" height="43.8" opacity=".24"/>
<rect x="503.47" y="88.5" width="8.25" height="44.9" opacity=".23"/>
<rect x="511.72" y="73.2" width="8.25" height="46.4" opacity=".23"/>
<rect x="519.97" y="57.8" width="8.25" height="48" opacity=".22"/>
<rect x="528.23" y="39.4" width="8.25" height="49.5" opacity=".22"/>
<rect x="536.48" y="21" width="8.25" height="51.1" opacity=".21"/>
<rect x="544.73" y="-1.2" width="8.25" height="52.6" opacity=".21"/>
<rect x="552.98" y="-22.7" width="8.25" height="52.6" opacity=".21"/>
<rect x="561.23" y="-46" width="8.25" height="52.6" opacity=".21"/>
<rect x="569.48" y="-69.4" width="8.25" height="52.6" opacity=".21"/>
<rect x="577.73" y="-69.4" width="8.25" height="52.6" opacity=".21"/>
</g>
<g filter="url(#vea)">
<rect x="528.23" y="483.4" width="8.25" height="39.3" opacity=".16"/>
<rect x="536.48" y="471.3" width="8.25" height="59.4" opacity=".19"/>
<rect x="544.73" y="459.6" width="8.25" height="78.8" opacity=".23"/>
<rect x="552.98" y="476.4" width="8.25" height="39.3" opacity=".18"/>
<rect x="552.98" y="427.9" width="8.25" height="104.3" opacity=".18"/>
<rect x="561.23" y="466.4" width="8.25" height="39.3" opacity=".13"/>
<rect x="561.23" y="419" width="8.25" height="97.9" opacity=".22"/>
<rect x="569.48" y="412.2" width="8.25" height="91.6" opacity=".23"/>
<rect x="577.73" y="426.1" width="8.25" height="35.8" opacity=".16"/>
<rect x="577.73" y="409.4" width="8.25" height="85.2" opacity=".18"/>
<rect x="577.73" y="370" width="8.25" height="16.1" opacity=".18"/>
<rect x="585.99" y="415.7" width="8.25" height="28.5" opacity=".24"/>
<rect x="585.99" y="364.7" width="8.25" height="20.6" opacity=".26"/>
<rect x="594.24" y="404.7" width="8.25" height="24.7" opacity=".36"/>
<rect x="594.24" y="359.7" width="8.25" height="20.6" opacity=".28"/>
<rect x="602.49" y="394.7" width="8.25" height="24.7" opacity=".42"/>
<rect x="602.49" y="353.7" width="8.25" height="20.6" opacity=".29"/>
<rect x="610.74" y="386.7" width="8.25" height="24.7" opacity=".38"/>
<rect x="610.74" y="346.7" width="8.25" height="20.6" opacity=".32"/>
<rect x="610.74" y="309.7" width="8.25" height="20.6" opacity=".22"/>
<rect x="618.99" y="378.7" width="8.25" height="24.7" opacity=".31"/>
<rect x="618.99" y="341.7" width="8.25" height="20.6" opacity=".31"/>
<rect x="618.99" y="303.7" width="8.25" height="20.6" opacity=".24"/>
<rect x="627.24" y="379.9" width="8.25" height="32.2" opacity=".22"/>
<rect x="627.24" y="397.1" width="8.25" height="65.9" opacity=".16"/>
<rect x="627.24" y="340" width="8.25" height="16.1" opacity=".25"/>
<rect x="627.24" y="292.7" width="8.25" height="24.7" opacity=".23"/>
<rect x="635.49" y="388.8" width="8.25" height="72.4" opacity=".2"/>
<rect x="635.49" y="337" width="8.25" height="16.1" opacity=".18"/>
<rect x="635.49" y="280.7" width="8.25" height="28.5" opacity=".21"/>
<rect x="643.75" y="393.8" width="8.25" height="72.4" opacity=".2"/>
<rect x="643.75" y="262.1" width="8.25" height="35.8" opacity=".13"/>
<rect x="652" y="393.8" width="8.25" height="72.4" opacity=".2"/>
<rect x="660.25" y="392.6" width="8.25" height="78.8" opacity=".23"/>
<rect x="660.25" y="328" width="8.25" height="16.1" opacity=".15"/>
</g>
</g></g>
</g>
<g mask="url(#m3a)"><g clip-path="url(#cpa)" fill="#00007a"><use href="#cha"/></g></g>
<path d="M99.15 9.7V504.5M107.4 9.7V504.5M115.65 9.7V504.5M123.91 9.7V504.5M132.16 9.7V504.5M140.41 9.7V504.5M148.66 9.7V504.5M156.91 9.7V504.5M165.16 9.7V504.5M173.41 9.7V504.5M181.67 9.7V504.5M189.92 9.7V504.5M198.17 9.7V504.5M206.42 9.7V504.5M214.67 9.7V504.5M222.92 9.7V504.5M231.17 9.7V504.5M239.43 9.7V504.5M247.68 9.7V504.5M255.93 9.7V504.5M264.18 9.7V504.5M272.43 9.7V504.5M280.68 9.7V504.5M288.93 9.7V504.5M297.19 9.7V504.5M305.44 9.7V504.5M313.69 9.7V504.5M321.94 9.7V504.5M330.19 9.7V504.5M338.44 9.7V504.5M346.69 9.7V504.5M354.95 9.7V504.5M363.2 9.7V504.5M371.45 9.7V504.5M379.7 9.7V504.5M387.95 9.7V504.5M396.2 9.7V504.5M404.45 9.7V504.5M412.71 9.7V504.5M420.96 9.7V504.5M429.21 9.7V504.5M437.46 9.7V504.5M445.71 9.7V504.5M453.96 9.7V504.5M462.21 9.7V504.5M470.47 9.7V504.5M478.72 9.7V504.5M486.97 9.7V504.5M495.22 9.7V504.5M503.47 9.7V504.5M511.72 9.7V504.5M519.97 9.7V504.5M528.23 9.7V504.5M536.48 9.7V504.5M544.73 9.7V504.5M552.98 9.7V504.5M561.23 9.7V504.5M569.48 9.7V504.5M577.73 9.7V504.5M585.99 9.7V504.5M594.24 9.7V504.5M602.49 9.7V504.5M610.74 9.7V504.5M618.99 9.7V504.5M627.24 9.7V504.5M635.49 9.7V504.5M643.75 9.7V504.5M652 9.7V504.5M660.25 9.7V504.5" stroke="#e4e4ff" stroke-width="1.45" fill="none"/>
<path d="M90.9 9.7V504.5" stroke="#000" stroke-width=".7"/>
<path d="M90.5 504.8H673" stroke="#000" stroke-width="1.5"/>
<defs><g id="lcb"><rect width="8.369" height="4.191" fill="#000"/><rect x="3.07" width="2" height="4.171" fill="#c8c8c8"/><ellipse cx="4.17" cy="1.04" rx="2.45" ry="1.4" fill="#fff"/></g><g id="kcb"><ellipse cx="4.17" cy="3.13" rx="1.3" ry=".85" fill="#fff"/></g><g id="ncb"><rect x=".7" width="1.07" height="4.191" fill="#5a5a5a"/><rect x="6.57" width="1.07" height="4.191" fill="#5a5a5a"/><rect x=".7" y="2.23" width="2.37" height="1.8" fill="#fff"/><rect x="5.27" y="2.23" width="2.37" height="1.8" fill="#fff"/></g><g id="lrb"><use href="#lcb" x="0"/><use href="#lcb" x="8.349"/><use href="#lcb" x="16.697"/><use href="#lcb" x="25.046"/><use href="#lcb" x="33.394"/><use href="#lcb" x="41.743"/><use href="#lcb" x="50.091"/><use href="#lcb" x="58.44"/><use href="#lcb" x="66.789"/><use href="#lcb" x="75.137"/><use href="#lcb" x="83.486"/><use href="#lcb" x="91.834"/><use href="#lcb" x="100.183"/><use href="#lcb" x="108.531"/><use href="#lcb" x="116.88"/><use href="#lcb" x="125.229"/><use href="#lcb" x="133.577"/><use href="#lcb" x="141.926"/><use href="#lcb" x="150.274"/><use href="#lcb" x="158.623"/><use href="#lcb" x="166.971"/><use href="#lcb" x="175.32"/><use href="#lcb" x="183.669"/><use href="#lcb" x="192.017"/><use href="#lcb" x="200.366"/><use href="#lcb" x="208.714"/><use href="#lcb" x="217.063"/><use href="#lcb" x="225.411"/><use href="#lcb" x="233.76"/><use href="#lcb" x="242.109"/><use href="#lcb" x="250.457"/><use href="#lcb" x="258.806"/><use href="#lcb" x="267.154"/><use href="#lcb" x="275.503"/><use href="#lcb" x="283.851"/><use href="#lcb" x="292.2"/><use href="#lcb" x="300.549"/><use href="#lcb" x="308.897"/><use href="#lcb" x="317.246"/><use href="#lcb" x="325.594"/><use href="#lcb" x="333.943"/><use href="#lcb" x="342.291"/><use href="#lcb" x="350.64"/><use href="#lcb" x="358.989"/><use href="#lcb" x="367.337"/><use href="#lcb" x="375.686"/><use href="#lcb" x="384.034"/><use href="#lcb" x="392.383"/><use href="#lcb" x="400.731"/><use href="#lcb" x="409.08"/><use href="#lcb" x="417.429"/><use href="#lcb" x="425.777"/><use href="#lcb" x="434.126"/><use href="#lcb" x="442.474"/><use href="#lcb" x="450.823"/><use href="#lcb" x="459.171"/><use href="#lcb" x="467.52"/><use href="#lcb" x="475.869"/><use href="#lcb" x="484.217"/><use href="#lcb" x="492.566"/><use href="#lcb" x="500.914"/><use href="#lcb" x="509.263"/><use href="#lcb" x="517.611"/><use href="#lcb" x="525.96"/><use href="#lcb" x="534.309"/><use href="#lcb" x="542.657"/><use href="#lcb" x="551.006"/><use href="#lcb" x="559.354"/><use href="#lcb" x="567.703"/><use href="#lcb" x="576.051"/></g><g id="krb"><use href="#kcb" x="0"/><use href="#kcb" x="8.349"/><use href="#kcb" x="16.697"/><use href="#kcb" x="25.046"/><use href="#kcb" x="33.394"/><use href="#kcb" x="41.743"/><use href="#kcb" x="50.091"/><use href="#kcb" x="58.44"/><use href="#kcb" x="66.789"/><use href="#kcb" x="75.137"/><use href="#kcb" x="83.486"/><use href="#kcb" x="91.834"/><use href="#kcb" x="100.183"/><use href="#kcb" x="108.531"/><use href="#kcb" x="116.88"/><use href="#kcb" x="125.229"/><use href="#kcb" x="133.577"/><use href="#kcb" x="141.926"/><use href="#kcb" x="150.274"/><use href="#kcb" x="158.623"/><use href="#kcb" x="166.971"/><use href="#kcb" x="175.32"/><use href="#kcb" x="183.669"/><use href="#kcb" x="192.017"/><use href="#kcb" x="200.366"/><use href="#kcb" x="208.714"/><use href="#kcb" x="217.063"/><use href="#kcb" x="225.411"/><use href="#kcb" x="233.76"/><use href="#kcb" x="242.109"/><use href="#kcb" x="250.457"/><use href="#kcb" x="258.806"/><use href="#kcb" x="267.154"/><use href="#kcb" x="275.503"/><use href="#kcb" x="283.851"/><use href="#kcb" x="292.2"/><use href="#kcb" x="300.549"/><use href="#kcb" x="308.897"/><use href="#kcb" x="317.246"/><use href="#kcb" x="325.594"/><use href="#kcb" x="333.943"/><use href="#kcb" x="342.291"/><use href="#kcb" x="350.64"/><use href="#kcb" x="358.989"/><use href="#kcb" x="367.337"/><use href="#kcb" x="375.686"/><use href="#kcb" x="384.034"/><use href="#kcb" x="392.383"/><use href="#kcb" x="400.731"/><use href="#kcb" x="409.08"/><use href="#kcb" x="417.429"/><use href="#kcb" x="425.777"/><use href="#kcb" x="434.126"/><use href="#kcb" x="442.474"/><use href="#kcb" x="450.823"/><use href="#kcb" x="459.171"/><use href="#kcb" x="467.52"/><use href="#kcb" x="475.869"/><use href="#kcb" x="484.217"/><use href="#kcb" x="492.566"/><use href="#kcb" x="500.914"/><use href="#kcb" x="509.263"/><use href="#kcb" x="517.611"/><use href="#kcb" x="525.96"/><use href="#kcb" x="534.309"/><use href="#kcb" x="542.657"/><use href="#kcb" x="551.006"/><use href="#kcb" x="559.354"/><use href="#kcb" x="567.703"/><use href="#kcb" x="576.051"/></g><g id="nrb"><use href="#ncb" x="0"/><use href="#ncb" x="8.349"/><use href="#ncb" x="16.697"/><use href="#ncb" x="25.046"/><use href="#ncb" x="33.394"/><use href="#ncb" x="41.743"/><use href="#ncb" x="50.091"/><use href="#ncb" x="58.44"/><use href="#ncb" x="66.789"/><use href="#ncb" x="75.137"/><use href="#ncb" x="83.486"/><use href="#ncb" x="91.834"/><use href="#ncb" x="100.183"/><use href="#ncb" x="108.531"/><use href="#ncb" x="116.88"/><use href="#ncb" x="125.229"/><use href="#ncb" x="133.577"/><use href="#ncb" x="141.926"/><use href="#ncb" x="150.274"/><use href="#ncb" x="158.623"/><use href="#ncb" x="166.971"/><use href="#ncb" x="175.32"/><use href="#ncb" x="183.669"/><use href="#ncb" x="192.017"/><use href="#ncb" x="200.366"/><use href="#ncb" x="208.714"/><use href="#ncb" x="217.063"/><use href="#ncb" x="225.411"/><use href="#ncb" x="233.76"/><use href="#ncb" x="242.109"/><use href="#ncb" x="250.457"/><use href="#ncb" x="258.806"/><use href="#ncb" x="267.154"/><use href="#ncb" x="275.503"/><use href="#ncb" x="283.851"/><use href="#ncb" x="292.2"/><use href="#ncb" x="300.549"/><use href="#ncb" x="308.897"/><use href="#ncb" x="317.246"/><use href="#ncb" x="325.594"/><use href="#ncb" x="333.943"/><use href="#ncb" x="342.291"/><use href="#ncb" x="350.64"/><use href="#ncb" x="358.989"/><use href="#ncb" x="367.337"/><use href="#ncb" x="375.686"/><use href="#ncb" x="384.034"/><use href="#ncb" x="392.383"/><use href="#ncb" x="400.731"/><use href="#ncb" x="409.08"/><use href="#ncb" x="417.429"/><use href="#ncb" x="425.777"/><use href="#ncb" x="434.126"/><use href="#ncb" x="442.474"/><use href="#ncb" x="450.823"/><use href="#ncb" x="459.171"/><use href="#ncb" x="467.52"/><use href="#ncb" x="475.869"/><use href="#ncb" x="484.217"/><use href="#ncb" x="492.566"/><use href="#ncb" x="500.914"/><use href="#ncb" x="509.263"/><use href="#ncb" x="517.611"/><use href="#ncb" x="525.96"/><use href="#ncb" x="534.309"/><use href="#ncb" x="542.657"/><use href="#ncb" x="551.006"/><use href="#ncb" x="559.354"/><use href="#ncb" x="567.703"/><use href="#ncb" x="576.051"/></g></defs>
<clipPath id="cpb"><rect x="88" y="580.9" width="584.4" height="500.7"/></clipPath>
<filter id="pbb" filterUnits="userSpaceOnUse" x="-5" y="-5" width="594.4" height="510.7" color-interpolation-filters="sRGB"><feGaussianBlur stdDeviation=".26"/></filter>
<mask id="m1b" maskUnits="userSpaceOnUse" x="88" y="580.9" width="584.4" height="500.7"><g filter="url(#pbb)" transform="translate(88 580.9)"><use href="#lrb" y="-1.251"/><use href="#lrb" y="2.92"/><use href="#lrb" y="7.09"/><use href="#lrb" y="11.261"/><use href="#lrb" y="15.432"/><use href="#lrb" y="19.602"/><use href="#lrb" y="23.773"/><use href="#lrb" y="27.944"/><use href="#lrb" y="32.115"/><use href="#lrb" y="36.285"/><use href="#lrb" y="40.456"/><use href="#lrb" y="44.627"/><use href="#lrb" y="48.798"/><use href="#lrb" y="52.968"/><use href="#lrb" y="57.139"/><use href="#lrb" y="61.31"/><use href="#lrb" y="65.48"/><use href="#lrb" y="69.651"/><use href="#lrb" y="73.822"/><use href="#lrb" y="77.993"/><use href="#lrb" y="82.163"/><use href="#lrb" y="86.334"/><use href="#lrb" y="90.505"/><use href="#lrb" y="94.676"/><use href="#lrb" y="98.846"/><use href="#lrb" y="103.017"/><use href="#lrb" y="107.188"/><use href="#lrb" y="111.359"/><use href="#lrb" y="115.529"/><use href="#lrb" y="119.7"/><use href="#lrb" y="123.871"/><use href="#lrb" y="128.041"/><use href="#lrb" y="132.212"/><use href="#lrb" y="136.383"/><use href="#lrb" y="140.554"/><use href="#lrb" y="144.724"/><use href="#lrb" y="148.895"/><use href="#lrb" y="153.066"/><use href="#lrb" y="157.237"/><use href="#lrb" y="161.407"/><use href="#lrb" y="165.578"/><use href="#lrb" y="169.749"/><use href="#lrb" y="173.919"/><use href="#lrb" y="178.09"/><use href="#lrb" y="182.261"/><use href="#lrb" y="186.432"/><use href="#lrb" y="190.602"/><use href="#lrb" y="194.773"/><use href="#lrb" y="198.944"/><use href="#lrb" y="203.115"/><use href="#lrb" y="207.285"/><use href="#lrb" y="211.456"/><use href="#lrb" y="215.627"/><use href="#lrb" y="219.798"/><use href="#lrb" y="223.968"/><use href="#lrb" y="228.139"/><use href="#lrb" y="232.31"/><use href="#lrb" y="236.48"/><use href="#lrb" y="240.651"/><use href="#lrb" y="244.822"/><use href="#lrb" y="248.993"/><use href="#lrb" y="253.163"/><use href="#lrb" y="257.334"/><use href="#lrb" y="261.505"/><use href="#lrb" y="265.676"/><use href="#lrb" y="269.846"/><use href="#lrb" y="274.017"/><use href="#lrb" y="278.188"/><use href="#lrb" y="282.358"/><use href="#lrb" y="286.529"/><use href="#lrb" y="290.7"/><use href="#lrb" y="294.871"/><use href="#lrb" y="299.041"/><use href="#lrb" y="303.212"/><use href="#lrb" y="307.383"/><use href="#lrb" y="311.554"/><use href="#lrb" y="315.724"/><use href="#lrb" y="319.895"/><use href="#lrb" y="324.066"/><use href="#lrb" y="328.236"/><use href="#lrb" y="332.407"/><use href="#lrb" y="336.578"/><use href="#lrb" y="340.749"/><use href="#lrb" y="344.919"/><use href="#lrb" y="349.09"/><use href="#lrb" y="353.261"/><use href="#lrb" y="357.432"/><use href="#lrb" y="361.602"/><use href="#lrb" y="365.773"/><use href="#lrb" y="369.944"/><use href="#lrb" y="374.115"/><use href="#lrb" y="378.285"/><use href="#lrb" y="382.456"/><use href="#lrb" y="386.627"/><use href="#lrb" y="390.797"/><use href="#lrb" y="394.968"/><use href="#lrb" y="399.139"/><use href="#lrb" y="403.31"/><use href="#lrb" y="407.48"/><use href="#lrb" y="411.651"/><use href="#lrb" y="415.822"/><use href="#lrb" y="419.993"/><use href="#lrb" y="424.163"/><use href="#lrb" y="428.334"/><use href="#lrb" y="432.505"/><use href="#lrb" y="436.675"/><use href="#lrb" y="440.846"/><use href="#lrb" y="445.017"/><use href="#lrb" y="449.188"/><use href="#lrb" y="453.358"/><use href="#lrb" y="457.529"/><use href="#lrb" y="461.7"/><use href="#lrb" y="465.871"/><use href="#lrb" y="470.041"/><use href="#lrb" y="474.212"/><use href="#lrb" y="478.383"/><use href="#lrb" y="482.554"/><use href="#lrb" y="486.724"/><use href="#lrb" y="490.895"/><use href="#lrb" y="495.066"/><use href="#lrb" y="499.236"/><use href="#lrb" y="503.407"/></g></mask>
<mask id="m2b" maskUnits="userSpaceOnUse" x="88" y="580.9" width="584.4" height="500.7"><g filter="url(#pbb)" transform="translate(88 580.9)"><use href="#krb" y="-1.251"/><use href="#krb" y="2.92"/><use href="#krb" y="7.09"/><use href="#krb" y="11.261"/><use href="#krb" y="15.432"/><use href="#krb" y="19.602"/><use href="#krb" y="23.773"/><use href="#krb" y="27.944"/><use href="#krb" y="32.115"/><use href="#krb" y="36.285"/><use href="#krb" y="40.456"/><use href="#krb" y="44.627"/><use href="#krb" y="48.798"/><use href="#krb" y="52.968"/><use href="#krb" y="57.139"/><use href="#krb" y="61.31"/><use href="#krb" y="65.48"/><use href="#krb" y="69.651"/><use href="#krb" y="73.822"/><use href="#krb" y="77.993"/><use href="#krb" y="82.163"/><use href="#krb" y="86.334"/><use href="#krb" y="90.505"/><use href="#krb" y="94.676"/><use href="#krb" y="98.846"/><use href="#krb" y="103.017"/><use href="#krb" y="107.188"/><use href="#krb" y="111.359"/><use href="#krb" y="115.529"/><use href="#krb" y="119.7"/><use href="#krb" y="123.871"/><use href="#krb" y="128.041"/><use href="#krb" y="132.212"/><use href="#krb" y="136.383"/><use href="#krb" y="140.554"/><use href="#krb" y="144.724"/><use href="#krb" y="148.895"/><use href="#krb" y="153.066"/><use href="#krb" y="157.237"/><use href="#krb" y="161.407"/><use href="#krb" y="165.578"/><use href="#krb" y="169.749"/><use href="#krb" y="173.919"/><use href="#krb" y="178.09"/><use href="#krb" y="182.261"/><use href="#krb" y="186.432"/><use href="#krb" y="190.602"/><use href="#krb" y="194.773"/><use href="#krb" y="198.944"/><use href="#krb" y="203.115"/><use href="#krb" y="207.285"/><use href="#krb" y="211.456"/><use href="#krb" y="215.627"/><use href="#krb" y="219.798"/><use href="#krb" y="223.968"/><use href="#krb" y="228.139"/><use href="#krb" y="232.31"/><use href="#krb" y="236.48"/><use href="#krb" y="240.651"/><use href="#krb" y="244.822"/><use href="#krb" y="248.993"/><use href="#krb" y="253.163"/><use href="#krb" y="257.334"/><use href="#krb" y="261.505"/><use href="#krb" y="265.676"/><use href="#krb" y="269.846"/><use href="#krb" y="274.017"/><use href="#krb" y="278.188"/><use href="#krb" y="282.358"/><use href="#krb" y="286.529"/><use href="#krb" y="290.7"/><use href="#krb" y="294.871"/><use href="#krb" y="299.041"/><use href="#krb" y="303.212"/><use href="#krb" y="307.383"/><use href="#krb" y="311.554"/><use href="#krb" y="315.724"/><use href="#krb" y="319.895"/><use href="#krb" y="324.066"/><use href="#krb" y="328.236"/><use href="#krb" y="332.407"/><use href="#krb" y="336.578"/><use href="#krb" y="340.749"/><use href="#krb" y="344.919"/><use href="#krb" y="349.09"/><use href="#krb" y="353.261"/><use href="#krb" y="357.432"/><use href="#krb" y="361.602"/><use href="#krb" y="365.773"/><use href="#krb" y="369.944"/><use href="#krb" y="374.115"/><use href="#krb" y="378.285"/><use href="#krb" y="382.456"/><use href="#krb" y="386.627"/><use href="#krb" y="390.797"/><use href="#krb" y="394.968"/><use href="#krb" y="399.139"/><use href="#krb" y="403.31"/><use href="#krb" y="407.48"/><use href="#krb" y="411.651"/><use href="#krb" y="415.822"/><use href="#krb" y="419.993"/><use href="#krb" y="424.163"/><use href="#krb" y="428.334"/><use href="#krb" y="432.505"/><use href="#krb" y="436.675"/><use href="#krb" y="440.846"/><use href="#krb" y="445.017"/><use href="#krb" y="449.188"/><use href="#krb" y="453.358"/><use href="#krb" y="457.529"/><use href="#krb" y="461.7"/><use href="#krb" y="465.871"/><use href="#krb" y="470.041"/><use href="#krb" y="474.212"/><use href="#krb" y="478.383"/><use href="#krb" y="482.554"/><use href="#krb" y="486.724"/><use href="#krb" y="490.895"/><use href="#krb" y="495.066"/><use href="#krb" y="499.236"/><use href="#krb" y="503.407"/></g></mask>
<mask id="m3b" maskUnits="userSpaceOnUse" x="88" y="580.9" width="584.4" height="500.7"><g filter="url(#pbb)" transform="translate(88 580.9)"><use href="#nrb" y="-1.251"/><use href="#nrb" y="2.92"/><use href="#nrb" y="7.09"/><use href="#nrb" y="11.261"/><use href="#nrb" y="15.432"/><use href="#nrb" y="19.602"/><use href="#nrb" y="23.773"/><use href="#nrb" y="27.944"/><use href="#nrb" y="32.115"/><use href="#nrb" y="36.285"/><use href="#nrb" y="40.456"/><use href="#nrb" y="44.627"/><use href="#nrb" y="48.798"/><use href="#nrb" y="52.968"/><use href="#nrb" y="57.139"/><use href="#nrb" y="61.31"/><use href="#nrb" y="65.48"/><use href="#nrb" y="69.651"/><use href="#nrb" y="73.822"/><use href="#nrb" y="77.993"/><use href="#nrb" y="82.163"/><use href="#nrb" y="86.334"/><use href="#nrb" y="90.505"/><use href="#nrb" y="94.676"/><use href="#nrb" y="98.846"/><use href="#nrb" y="103.017"/><use href="#nrb" y="107.188"/><use href="#nrb" y="111.359"/><use href="#nrb" y="115.529"/><use href="#nrb" y="119.7"/><use href="#nrb" y="123.871"/><use href="#nrb" y="128.041"/><use href="#nrb" y="132.212"/><use href="#nrb" y="136.383"/><use href="#nrb" y="140.554"/><use href="#nrb" y="144.724"/><use href="#nrb" y="148.895"/><use href="#nrb" y="153.066"/><use href="#nrb" y="157.237"/><use href="#nrb" y="161.407"/><use href="#nrb" y="165.578"/><use href="#nrb" y="169.749"/><use href="#nrb" y="173.919"/><use href="#nrb" y="178.09"/><use href="#nrb" y="182.261"/><use href="#nrb" y="186.432"/><use href="#nrb" y="190.602"/><use href="#nrb" y="194.773"/><use href="#nrb" y="198.944"/><use href="#nrb" y="203.115"/><use href="#nrb" y="207.285"/><use href="#nrb" y="211.456"/><use href="#nrb" y="215.627"/><use href="#nrb" y="219.798"/><use href="#nrb" y="223.968"/><use href="#nrb" y="228.139"/><use href="#nrb" y="232.31"/><use href="#nrb" y="236.48"/><use href="#nrb" y="240.651"/><use href="#nrb" y="244.822"/><use href="#nrb" y="248.993"/><use href="#nrb" y="253.163"/><use href="#nrb" y="257.334"/><use href="#nrb" y="261.505"/><use href="#nrb" y="265.676"/><use href="#nrb" y="269.846"/><use href="#nrb" y="274.017"/><use href="#nrb" y="278.188"/><use href="#nrb" y="282.358"/><use href="#nrb" y="286.529"/><use href="#nrb" y="290.7"/><use href="#nrb" y="294.871"/><use href="#nrb" y="299.041"/><use href="#nrb" y="303.212"/><use href="#nrb" y="307.383"/><use href="#nrb" y="311.554"/><use href="#nrb" y="315.724"/><use href="#nrb" y="319.895"/><use href="#nrb" y="324.066"/><use href="#nrb" y="328.236"/><use href="#nrb" y="332.407"/><use href="#nrb" y="336.578"/><use href="#nrb" y="340.749"/><use href="#nrb" y="344.919"/><use href="#nrb" y="349.09"/><use href="#nrb" y="353.261"/><use href="#nrb" y="357.432"/><use href="#nrb" y="361.602"/><use href="#nrb" y="365.773"/><use href="#nrb" y="369.944"/><use href="#nrb" y="374.115"/><use href="#nrb" y="378.285"/><use href="#nrb" y="382.456"/><use href="#nrb" y="386.627"/><use href="#nrb" y="390.797"/><use href="#nrb" y="394.968"/><use href="#nrb" y="399.139"/><use href="#nrb" y="403.31"/><use href="#nrb" y="407.48"/><use href="#nrb" y="411.651"/><use href="#nrb" y="415.822"/><use href="#nrb" y="419.993"/><use href="#nrb" y="424.163"/><use href="#nrb" y="428.334"/><use href="#nrb" y="432.505"/><use href="#nrb" y="436.675"/><use href="#nrb" y="440.846"/><use href="#nrb" y="445.017"/><use href="#nrb" y="449.188"/><use href="#nrb" y="453.358"/><use href="#nrb" y="457.529"/><use href="#nrb" y="461.7"/><use href="#nrb" y="465.871"/><use href="#nrb" y="470.041"/><use href="#nrb" y="474.212"/><use href="#nrb" y="478.383"/><use href="#nrb" y="482.554"/><use href="#nrb" y="486.724"/><use href="#nrb" y="490.895"/><use href="#nrb" y="495.066"/><use href="#nrb" y="499.236"/><use href="#nrb" y="503.407"/></g></mask>
<filter id="v1b" filterUnits="userSpaceOnUse" x="83" y="380.9" width="594.4" height="900.7" color-interpolation-filters="sRGB"><feGaussianBlur stdDeviation="0 5"/></filter>
<filter id="v2b" filterUnits="userSpaceOnUse" x="83" y="380.9" width="594.4" height="900.7" color-interpolation-filters="sRGB"><feGaussianBlur stdDeviation="0 6"/></filter>
<filter id="veb" filterUnits="userSpaceOnUse" x="83" y="380.9" width="594.4" height="900.7" color-interpolation-filters="sRGB"><feGaussianBlur stdDeviation="0 5.5"/></filter>
<filter id="jetb" filterUnits="userSpaceOnUse" x="85" y="577.9" width="590.4" height="506.7" color-interpolation-filters="sRGB"><feComponentTransfer><feFuncR type="table" tableValues=".031 .034 .037 .039 .037 .035 .033 .031 .025 .019 .013 .006 0 0 0 0 0 0 0 0 0 0 0 0 0 0 0 0 0 0 0 .02 .039 .059 .078 .098 .118 .137 .157 .191 .225 .26 .294 .328 .363 .397 .431 .466 .501 .536 .571 .606 .641 .675 .71 .745 .777 .809 .841 .873 .904 .936 .968 1 1 1 1 1 1 1 1 1 1 1 1 1 1 1 1 1 1 1 1 1 1 1 1 1 .98 .961 .941 .922 .902 .882 .863 .817 .771 .725 .68 .634 .588"/><feFuncG type="table" tableValues=".055 .089 .123 .157 .198 .239 .28 .322 .363 .405 .446 .488 .529 .559 .588 .618 .647 .676 .706 .735 .765 .784 .804 .824 .843 .863 .882 .902 .922 .941 .961 .966 .971 .975 .98 .985 .99 .995 1 1 1 1 1 1 1 1 1 1 1 1 1 1 1 1 1 1 .993 .985 .978 .971 .963 .956 .949 .941 .908 .876 .843 .81 .778 .745 .712 .68 .647 .614 .582 .549 .513 .477 .441 .405 .369 .333 .297 .261 .225 .19 .154 .118 .101 .084 .067 .05 .034 .017 0 0 0 0 0 0 0"/><feFuncB type="table" tableValues=".965 .97 .975 .98 .985 .99 .995 1 1 1 1 1 1 1 1 1 1 1 1 1 1 1 1 1 1 1 1 1 1 1 1 .98 .961 .941 .922 .902 .882 .863 .843 .809 .775 .74 .706 .672 .637 .603 .569 .534 .499 .464 .429 .394 .359 .325 .29 .255 .223 .191 .159 .127 .096 .064 .032 0 0 0 0 0 0 0 0 0 0 0 0 0 0 0 0 0 0 0 0 0 0 0 0 0 0 0 0 0 0 0 0 0 0 0 0 0 0"/></feComponentTransfer><feGaussianBlur stdDeviation=".68"/></filter>
<g filter="url(#jetb)">
<rect x="88" y="580.9" width="584.4" height="500.7" fill="#000"/>
<g mask="url(#m1b)"><g clip-path="url(#cpb)" fill="#fff"><g id="chb"><g filter="url(#v1b)">
<rect x="88" y="936.8" width="8.35" height="37.3" opacity=".47"/>
<rect x="88" y="914.1" width="8.35" height="32.7" opacity=".15"/>
<rect x="88" y="964" width="8.35" height="32.7" opacity=".15"/>
<rect x="96.35" y="936.7" width="8.35" height="37.4" opacity=".47"/>
<rect x="96.35" y="914.1" width="8.35" height="32.8" opacity=".15"/>
<rect x="96.35" y="964" width="8.35" height="32.8" opacity=".15"/>
<rect x="104.7" y="936.7" width="8.35" height="37.4" opacity=".47"/>
<rect x="104.7" y="914" width="8.35" height="32.8" opacity=".15"/>
<rect x="104.7" y="964" width="8.35" height="32.8" opacity=".15"/>
<rect x="113.05" y="936.7" width="8.35" height="37.5" opacity=".47"/>
<rect x="113.05" y="913.9" width="8.35" height="32.9" opacity=".15"/>
<rect x="113.05" y="964" width="8.35" height="32.9" opacity=".15"/>
<rect x="121.39" y="936.6" width="8.35" height="37.6" opacity=".47"/>
<rect x="121.39" y="913.9" width="8.35" height="33" opacity=".15"/>
<rect x="121.39" y="964" width="8.35" height="33" opacity=".15"/>
<rect x="129.74" y="936.3" width="8.35" height="37.6" opacity=".46"/>
<rect x="129.74" y="913.5" width="8.35" height="33" opacity=".15"/>
<rect x="129.74" y="963.7" width="8.35" height="33" opacity=".15"/>
<rect x="138.09" y="935.9" width="8.35" height="37.7" opacity=".46"/>
<rect x="138.09" y="913.1" width="8.35" height="33.1" opacity=".15"/>
<rect x="138.09" y="963.4" width="8.35" height="33.1" opacity=".15"/>
<rect x="146.44" y="935" width="8.35" height="37.7" opacity=".46"/>
<rect x="146.44" y="912.2" width="8.35" height="33.1" opacity=".15"/>
<rect x="146.44" y="962.5" width="8.35" height="33.1" opacity=".14"/>
<rect x="154.79" y="934.2" width="8.35" height="37.8" opacity=".46"/>
<rect x="154.79" y="911.3" width="8.35" height="33.2" opacity=".15"/>
<rect x="154.79" y="961.7" width="8.35" height="33.2" opacity=".13"/>
<rect x="163.14" y="932.7" width="8.35" height="37.9" opacity=".46"/>
<rect x="163.14" y="909.8" width="8.35" height="33.2" opacity=".15"/>
<rect x="163.14" y="960.3" width="8.35" height="33.2" opacity=".12"/>
<rect x="171.49" y="931.3" width="8.35" height="37.9" opacity=".46"/>
<rect x="171.49" y="908.3" width="8.35" height="33.3" opacity=".15"/>
<rect x="171.49" y="958.9" width="8.35" height="33.3" opacity=".11"/>
<rect x="179.83" y="929.3" width="8.35" height="38" opacity=".46"/>
<rect x="179.83" y="906.3" width="8.35" height="33.4" opacity=".15"/>
<rect x="179.83" y="957" width="8.35" height="33.4" opacity=".1"/>
<rect x="188.18" y="927.4" width="8.35" height="38.1" opacity=".46"/>
<rect x="188.18" y="904.4" width="8.35" height="33.4" opacity=".15"/>
<rect x="188.18" y="955.1" width="8.35" height="33.4" opacity=".09"/>
<rect x="196.53" y="925.1" width="8.35" height="38.1" opacity=".46"/>
<rect x="196.53" y="902" width="8.35" height="33.5" opacity=".15"/>
<rect x="196.53" y="952.8" width="8.35" height="33.5" opacity=".09"/>
<rect x="204.88" y="922.8" width="8.35" height="38.2" opacity=".46"/>
<rect x="204.88" y="899.7" width="8.35" height="33.5" opacity=".15"/>
<rect x="204.88" y="950.6" width="8.35" height="33.5" opacity=".08"/>
<rect x="213.23" y="920.2" width="8.35" height="38.2" opacity=".46"/>
<rect x="213.23" y="897.1" width="8.35" height="33.6" opacity=".15"/>
<rect x="213.23" y="948" width="8.35" height="33.6" opacity=".07"/>
<rect x="221.58" y="917.6" width="8.35" height="38.3" opacity=".46"/>
<rect x="221.58" y="894.4" width="8.35" height="33.6" opacity=".15"/>
<rect x="221.58" y="945.4" width="8.35" height="33.6" opacity=".06"/>
<rect x="229.93" y="914.8" width="8.35" height="38.4" opacity=".46"/>
<rect x="229.93" y="891.6" width="8.35" height="33.7" opacity=".15"/>
<rect x="229.93" y="942.6" width="8.35" height="33.7" opacity=".05"/>
<rect x="238.27" y="912" width="8.35" height="38.4" opacity=".46"/>
<rect x="238.27" y="888.8" width="8.35" height="33.8" opacity=".15"/>
<rect x="238.27" y="939.9" width="8.35" height="33.8" opacity=".04"/>
<rect x="246.62" y="908.9" width="8.35" height="38.5" opacity=".46"/>
<rect x="246.62" y="885.6" width="8.35" height="33.8" opacity=".15"/>
<rect x="246.62" y="936.8" width="8.35" height="33.8" opacity=".04"/>
<rect x="254.97" y="905.8" width="8.35" height="38.6" opacity=".46"/>
<rect x="254.97" y="882.5" width="8.35" height="33.9" opacity=".15"/>
<rect x="254.97" y="933.7" width="8.35" height="33.9" opacity=".04"/>
<rect x="263.32" y="902.6" width="8.35" height="38.6" opacity=".46"/>
<rect x="263.32" y="879.3" width="8.35" height="33.9" opacity=".15"/>
<rect x="263.32" y="930.6" width="8.35" height="33.9" opacity=".04"/>
<rect x="271.67" y="899.4" width="8.35" height="38.7" opacity=".46"/>
<rect x="271.67" y="876" width="8.35" height="34" opacity=".15"/>
<rect x="271.67" y="927.4" width="8.35" height="34" opacity=".04"/>
<rect x="280.02" y="896.1" width="8.35" height="38.7" opacity=".46"/>
<rect x="280.02" y="872.7" width="8.35" height="34" opacity=".15"/>
<rect x="280.02" y="924.2" width="8.35" height="34" opacity=".04"/>
<rect x="288.37" y="892.8" width="8.35" height="38.8" opacity=".46"/>
<rect x="288.37" y="869.4" width="8.35" height="34.1" opacity=".15"/>
<rect x="288.37" y="920.9" width="8.35" height="34.1" opacity=".04"/>
<rect x="296.71" y="889.4" width="8.35" height="38.9" opacity=".46"/>
<rect x="296.71" y="866" width="8.35" height="34.2" opacity=".15"/>
<rect x="296.71" y="917.6" width="8.35" height="34.2" opacity=".04"/>
<rect x="305.06" y="886.1" width="8.35" height="38.9" opacity=".46"/>
<rect x="305.06" y="862.6" width="8.35" height="34.2" opacity=".15"/>
<rect x="305.06" y="914.2" width="8.35" height="34.2" opacity=".04"/>
<rect x="313.41" y="882.4" width="8.35" height="39" opacity=".46"/>
<rect x="313.41" y="858.9" width="8.35" height="34.3" opacity=".15"/>
<rect x="313.41" y="910.7" width="8.35" height="34.3" opacity=".04"/>
<rect x="321.76" y="878.8" width="8.35" height="39.1" opacity=".46"/>
<rect x="321.76" y="855.3" width="8.35" height="34.3" opacity=".15"/>
<rect x="321.76" y="907.1" width="8.35" height="34.3" opacity=".04"/>
<rect x="330.11" y="875" width="8.35" height="39.1" opacity=".46"/>
<rect x="330.11" y="851.5" width="8.35" height="34.4" opacity=".15"/>
<rect x="330.11" y="903.3" width="8.35" height="34.4" opacity=".04"/>
<rect x="338.46" y="870.9" width="8.35" height="39.8" opacity=".46"/>
<rect x="338.46" y="847" width="8.35" height="35" opacity=".15"/>
<rect x="338.46" y="899.6" width="8.35" height="35" opacity=".04"/>
<rect x="346.81" y="866.6" width="8.35" height="40.6" opacity=".46"/>
<rect x="346.81" y="842.2" width="8.35" height="35.7" opacity=".15"/>
<rect x="346.81" y="895.7" width="8.35" height="35.7" opacity=".04"/>
<rect x="355.15" y="862.2" width="8.35" height="41.3" opacity=".46"/>
<rect x="355.15" y="837.5" width="8.35" height="36.4" opacity=".14"/>
<rect x="355.15" y="891.8" width="8.35" height="36.4" opacity=".04"/>
<rect x="363.5" y="857.6" width="8.35" height="42" opacity=".45"/>
<rect x="363.5" y="832.5" width="8.35" height="37" opacity=".14"/>
<rect x="363.5" y="887.6" width="8.35" height="37" opacity=".04"/>
<rect x="371.85" y="853" width="8.35" height="42.7" opacity=".45"/>
<rect x="371.85" y="827.5" width="8.35" height="37.7" opacity=".14"/>
<rect x="371.85" y="883.4" width="8.35" height="37.7" opacity=".04"/>
<rect x="380.2" y="847.9" width="8.35" height="43.4" opacity=".45"/>
<rect x="380.2" y="822.1" width="8.35" height="38.3" opacity=".14"/>
<rect x="380.2" y="878.7" width="8.35" height="38.3" opacity=".04"/>
<rect x="388.55" y="842.7" width="8.35" height="44.1" opacity=".44"/>
<rect x="388.55" y="816.6" width="8.35" height="39" opacity=".14"/>
<rect x="388.55" y="874" width="8.35" height="39" opacity=".03"/>
<rect x="396.9" y="837.3" width="8.35" height="44.8" opacity=".44"/>
<rect x="396.9" y="810.8" width="8.35" height="39.6" opacity=".14"/>
<rect x="396.9" y="869" width="8.35" height="39.6" opacity=".03"/>
<rect x="405.25" y="831.9" width="8.35" height="45.5" opacity=".43"/>
<rect x="405.25" y="805" width="8.35" height="40.3" opacity=".14"/>
<rect x="405.25" y="864" width="8.35" height="40.3" opacity=".03"/>
<rect x="413.59" y="825.9" width="8.35" height="46.2" opacity=".43"/>
<rect x="413.59" y="798.6" width="8.35" height="40.9" opacity=".13"/>
<rect x="413.59" y="858.5" width="8.35" height="40.9" opacity=".03"/>
<rect x="421.94" y="820" width="8.35" height="46.9" opacity=".42"/>
<rect x="421.94" y="792.3" width="8.35" height="41.6" opacity=".13"/>
<rect x="421.94" y="853" width="8.35" height="41.6" opacity=".03"/>
<rect x="430.29" y="813.5" width="8.35" height="47.6" opacity=".41"/>
<rect x="430.29" y="785.5" width="8.35" height="42.2" opacity=".13"/>
<rect x="430.29" y="847" width="8.35" height="42.2" opacity=".03"/>
<rect x="438.64" y="807.1" width="8.35" height="48.3" opacity=".4"/>
<rect x="438.64" y="778.7" width="8.35" height="42.8" opacity=".13"/>
<rect x="438.64" y="841" width="8.35" height="42.8" opacity=".03"/>
<rect x="446.99" y="800.1" width="8.35" height="49" opacity=".39"/>
<rect x="446.99" y="771.3" width="8.35" height="43.5" opacity=".12"/>
<rect x="446.99" y="834.4" width="8.35" height="43.5" opacity=".03"/>
<rect x="455.34" y="793" width="8.35" height="49.7" opacity=".39"/>
<rect x="455.34" y="763.9" width="8.35" height="44.1" opacity=".12"/>
<rect x="455.34" y="827.8" width="8.35" height="44.1" opacity=".03"/>
<rect x="463.69" y="785.2" width="8.35" height="50.8" opacity=".38"/>
<rect x="463.69" y="755.5" width="8.35" height="45.1" opacity=".12"/>
<rect x="463.69" y="820.5" width="8.35" height="45.1" opacity=".03"/>
<rect x="472.03" y="777.3" width="8.35" height="51.8" opacity=".37"/>
<rect x="472.03" y="747.1" width="8.35" height="46" opacity=".12"/>
<rect x="472.03" y="813.3" width="8.35" height="46" opacity=".03"/>
<rect x="480.38" y="768.8" width="8.35" height="52.9" opacity=".36"/>
<rect x="480.38" y="738" width="8.35" height="47" opacity=".12"/>
<rect x="480.38" y="805.4" width="8.35" height="47" opacity=".03"/>
<rect x="488.73" y="760.2" width="8.35" height="53.9" opacity=".36"/>
<rect x="488.73" y="728.9" width="8.35" height="47.9" opacity=".11"/>
<rect x="488.73" y="797.5" width="8.35" height="47.9" opacity=".03"/>
<rect x="497.08" y="751" width="8.35" height="54.9" opacity=".35"/>
<rect x="497.08" y="719.1" width="8.35" height="48.9" opacity=".11"/>
<rect x="497.08" y="788.9" width="8.35" height="48.9" opacity=".03"/>
<rect x="505.43" y="741.7" width="8.35" height="56" opacity=".35"/>
<rect x="505.43" y="709.3" width="8.35" height="49.8" opacity=".11"/>
<rect x="505.43" y="780.3" width="8.35" height="49.8" opacity=".03"/>
<rect x="513.78" y="731.5" width="8.35" height="57" opacity=".34"/>
<rect x="513.78" y="698.5" width="8.35" height="50.7" opacity=".11"/>
<rect x="513.78" y="770.7" width="8.35" height="50.7" opacity=".03"/>
<rect x="522.13" y="721.3" width="8.35" height="58" opacity=".34"/>
<rect x="522.13" y="687.8" width="8.35" height="51.7" opacity=".11"/>
<rect x="522.13" y="761.2" width="8.35" height="51.7" opacity=".03"/>
<rect x="530.47" y="710.1" width="8.35" height="59.1" opacity=".33"/>
<rect x="530.47" y="676" width="8.35" height="52.6" opacity=".11"/>
<rect x="530.47" y="750.6" width="8.35" height="52.6" opacity=".03"/>
<rect x="538.82" y="698.9" width="8.35" height="60.1" opacity=".33"/>
<rect x="538.82" y="664.3" width="8.35" height="53.5" opacity=".1"/>
<rect x="538.82" y="740.1" width="8.35" height="53.5" opacity=".03"/>
<rect x="547.17" y="686.3" width="8.35" height="61.8" opacity=".33"/>
<rect x="547.17" y="650.7" width="8.35" height="55.1" opacity=".1"/>
<rect x="547.17" y="728.5" width="8.35" height="55.1" opacity=".03"/>
<rect x="555.52" y="673.7" width="8.35" height="63.5" opacity=".32"/>
<rect x="555.52" y="637.2" width="8.35" height="56.6" opacity=".1"/>
<rect x="555.52" y="717" width="8.35" height="56.6" opacity=".03"/>
<rect x="563.87" y="659.9" width="8.35" height="65.2" opacity=".32"/>
<rect x="563.87" y="622.5" width="8.35" height="58.2" opacity=".1"/>
<rect x="563.87" y="704.3" width="8.35" height="58.2" opacity=".03"/>
<rect x="572.22" y="646.1" width="8.35" height="66.9" opacity=".32"/>
<rect x="572.22" y="607.8" width="8.35" height="59.7" opacity=".1"/>
<rect x="572.22" y="691.6" width="8.35" height="59.7" opacity=".03"/>
<rect x="580.57" y="631" width="8.35" height="68.6" opacity=".32"/>
<rect x="580.57" y="591.7" width="8.35" height="61.3" opacity=".1"/>
<rect x="580.57" y="677.5" width="8.35" height="61.3" opacity=".02"/>
<rect x="588.91" y="615.8" width="8.35" height="70.3" opacity=".31"/>
<rect x="588.91" y="575.7" width="8.35" height="62.8" opacity=".1"/>
<rect x="588.91" y="663.5" width="8.35" height="62.8" opacity=".02"/>
<rect x="588.91" y="1116.5" width="8.35" height="70.3" opacity=".31"/>
<rect x="588.91" y="1076.4" width="8.35" height="62.8" opacity=".1"/>
<rect x="588.91" y="1164.2" width="8.35" height="62.8" opacity=".02"/>
<rect x="597.26" y="597.4" width="8.35" height="75.9" opacity=".31"/>
<rect x="597.26" y="554.2" width="8.35" height="67.9" opacity=".1"/>
<rect x="597.26" y="648.6" width="8.35" height="67.9" opacity=".02"/>
<rect x="597.26" y="1098.1" width="8.35" height="75.9" opacity=".31"/>
<rect x="597.26" y="1054.9" width="8.35" height="67.9" opacity=".1"/>
<rect x="597.26" y="1149.3" width="8.35" height="67.9" opacity=".02"/>
<rect x="605.61" y="579" width="8.35" height="81.6" opacity=".31"/>
<rect x="605.61" y="532.7" width="8.35" height="73" opacity=".1"/>
<rect x="605.61" y="633.8" width="8.35" height="73" opacity=".02"/>
<rect x="605.61" y="1079.7" width="8.35" height="81.6" opacity=".31"/>
<rect x="605.61" y="1033.4" width="8.35" height="73" opacity=".1"/>
<rect x="605.61" y="1134.5" width="8.35" height="73" opacity=".02"/>
<rect x="613.96" y="559.1" width="8.35" height="87.1" opacity=".31"/>
<rect x="613.96" y="509.8" width="8.35" height="78.1" opacity=".1"/>
<rect x="613.96" y="617.5" width="8.35" height="78.1" opacity=".02"/>
<rect x="613.96" y="1059.8" width="8.35" height="87.1" opacity=".31"/>
<rect x="613.96" y="1010.5" width="8.35" height="78.1" opacity=".1"/>
<rect x="613.96" y="1118.2" width="8.35" height="78.1" opacity=".02"/>
<rect x="622.31" y="538.6" width="8.35" height="93.9" opacity=".31"/>
<rect x="622.31" y="485.7" width="8.35" height="84.1" opacity=".1"/>
<rect x="622.31" y="601.4" width="8.35" height="84.1" opacity=".02"/>
<rect x="622.31" y="1039.3" width="8.35" height="93.9" opacity=".31"/>
<rect x="622.31" y="986.4" width="8.35" height="84.1" opacity=".1"/>
<rect x="622.31" y="1102.1" width="8.35" height="84.1" opacity=".02"/>
<rect x="630.66" y="516.4" width="8.35" height="100.5" opacity=".31"/>
<rect x="630.66" y="459.7" width="8.35" height="90.2" opacity=".1"/>
<rect x="630.66" y="583.4" width="8.35" height="90.2" opacity=".02"/>
<rect x="630.66" y="1017.1" width="8.35" height="100.5" opacity=".31"/>
<rect x="630.66" y="960.4" width="8.35" height="90.2" opacity=".1"/>
<rect x="630.66" y="1084.1" width="8.35" height="90.2" opacity=".02"/>
<rect x="639.01" y="494.1" width="8.35" height="107.2" opacity=".3"/>
<rect x="639.01" y="433.8" width="8.35" height="96.2" opacity=".1"/>
<rect x="639.01" y="565.4" width="8.35" height="96.2" opacity=".02"/>
<rect x="639.01" y="994.8" width="8.35" height="107.2" opacity=".3"/>
<rect x="639.01" y="934.5" width="8.35" height="96.2" opacity=".1"/>
<rect x="639.01" y="1066.1" width="8.35" height="96.2" opacity=".02"/>
<rect x="647.35" y="471.3" width="8.35" height="110.5" opacity=".3"/>
<rect x="647.35" y="409.1" width="8.35" height="99.2" opacity=".1"/>
<rect x="647.35" y="544.8" width="8.35" height="99.2" opacity=".02"/>
<rect x="647.35" y="972" width="8.35" height="110.5" opacity=".3"/>
<rect x="647.35" y="909.8" width="8.35" height="99.2" opacity=".1"/>
<rect x="647.35" y="1045.5" width="8.35" height="99.2" opacity=".02"/>
<rect x="655.7" y="448.5" width="8.35" height="113.9" opacity=".3"/>
<rect x="655.7" y="384.5" width="8.35" height="102.2" opacity=".09"/>
<rect x="655.7" y="524.2" width="8.35" height="102.2" opacity=".02"/>
<rect x="655.7" y="949.2" width="8.35" height="113.9" opacity=".3"/>
<rect x="655.7" y="885.2" width="8.35" height="102.2" opacity=".09"/>
<rect x="655.7" y="1024.9" width="8.35" height="102.2" opacity=".02"/>
<rect x="664.05" y="423.2" width="8.35" height="117.2" opacity=".3"/>
<rect x="664.05" y="357.3" width="8.35" height="105.2" opacity=".09"/>
<rect x="664.05" y="501" width="8.35" height="105.2" opacity=".02"/>
<rect x="664.05" y="923.9" width="8.35" height="117.2" opacity=".3"/>
<rect x="664.05" y="858" width="8.35" height="105.2" opacity=".09"/>
<rect x="664.05" y="1001.7" width="8.35" height="105.2" opacity=".02"/>
</g>
</g></g></g>
<g mask="url(#m2b)"><g clip-path="url(#cpb)" fill="#fff"><g filter="url(#v2b)">
<rect x="88" y="941.6" width="8.35" height="27.7" opacity="1"/>
<rect x="96.35" y="941.5" width="8.35" height="27.8" opacity="1"/>
<rect x="104.7" y="941.5" width="8.35" height="27.8" opacity="1"/>
<rect x="113.05" y="941.5" width="8.35" height="27.9" opacity="1"/>
<rect x="121.39" y="941.4" width="8.35" height="28" opacity="1"/>
<rect x="129.74" y="941.1" width="8.35" height="28" opacity="1"/>
<rect x="138.09" y="940.7" width="8.35" height="28.1" opacity="1"/>
<rect x="146.44" y="939.9" width="8.35" height="28.1" opacity="1"/>
<rect x="154.79" y="939" width="8.35" height="28.2" opacity="1"/>
<rect x="163.14" y="937.5" width="8.35" height="28.2" opacity="1"/>
<rect x="171.49" y="936.1" width="8.35" height="28.3" opacity="1"/>
<rect x="179.83" y="934.1" width="8.35" height="28.4" opacity="1"/>
<rect x="188.18" y="932.2" width="8.35" height="28.4" opacity="1"/>
<rect x="196.53" y="929.9" width="8.35" height="28.5" opacity="1"/>
<rect x="204.88" y="927.6" width="8.35" height="28.5" opacity="1"/>
<rect x="213.23" y="925" width="8.35" height="28.6" opacity="1"/>
<rect x="221.58" y="922.4" width="8.35" height="28.7" opacity="1"/>
<rect x="229.93" y="919.6" width="8.35" height="28.7" opacity="1"/>
<rect x="238.27" y="916.8" width="8.35" height="28.8" opacity="1"/>
<rect x="246.62" y="913.7" width="8.35" height="28.8" opacity="1"/>
<rect x="254.97" y="910.6" width="8.35" height="28.9" opacity="1"/>
<rect x="263.32" y="907.4" width="8.35" height="29" opacity="1"/>
<rect x="271.67" y="904.2" width="8.35" height="29" opacity="1"/>
<rect x="280.02" y="900.9" width="8.35" height="29.1" opacity="1"/>
<rect x="288.37" y="897.6" width="8.35" height="29.1" opacity="1"/>
<rect x="296.71" y="894.3" width="8.35" height="29.2" opacity="1"/>
<rect x="305.06" y="890.9" width="8.35" height="29.3" opacity="1"/>
<rect x="313.41" y="887.3" width="8.35" height="29.3" opacity="1"/>
<rect x="321.76" y="883.7" width="8.35" height="29.4" opacity="1"/>
<rect x="330.11" y="879.9" width="8.35" height="29.4" opacity="1"/>
<rect x="338.46" y="875.8" width="8.35" height="30.1" opacity="1"/>
<rect x="346.81" y="871.4" width="8.35" height="30.8" opacity="1"/>
<rect x="355.15" y="867.1" width="8.35" height="31.4" opacity="1"/>
<rect x="363.5" y="862.5" width="8.35" height="32.1" opacity="1"/>
<rect x="371.85" y="857.9" width="8.35" height="32.8" opacity="1"/>
<rect x="380.2" y="852.8" width="8.35" height="33.4" opacity="1"/>
<rect x="388.55" y="847.8" width="8.35" height="34.1" opacity=".97"/>
<rect x="396.9" y="842.3" width="8.35" height="34.7" opacity=".93"/>
<rect x="405.25" y="836.9" width="8.35" height="35.4" opacity=".89"/>
<rect x="413.59" y="831" width="8.35" height="36" opacity=".85"/>
<rect x="421.94" y="825.1" width="8.35" height="36.6" opacity=".79"/>
<rect x="430.29" y="818.7" width="8.35" height="37.3" opacity=".73"/>
<rect x="438.64" y="812.3" width="8.35" height="37.9" opacity=".68"/>
<rect x="446.99" y="805.3" width="8.35" height="38.5" opacity=".62"/>
<rect x="455.34" y="798.3" width="8.35" height="39.2" opacity=".57"/>
<rect x="463.69" y="790.5" width="8.35" height="40.1" opacity=".53"/>
<rect x="472.03" y="782.7" width="8.35" height="41" opacity=".49"/>
<rect x="480.38" y="774.2" width="8.35" height="42" opacity=".46"/>
<rect x="488.73" y="765.7" width="8.35" height="42.9" opacity=".42"/>
<rect x="497.08" y="756.5" width="8.35" height="43.8" opacity=".39"/>
<rect x="505.43" y="747.3" width="8.35" height="44.7" opacity=".37"/>
<rect x="513.78" y="737.2" width="8.35" height="45.7" opacity=".35"/>
<rect x="522.13" y="727" width="8.35" height="46.6" opacity=".33"/>
<rect x="530.47" y="715.9" width="8.35" height="47.5" opacity=".32"/>
<rect x="538.82" y="704.8" width="8.35" height="48.4" opacity=".3"/>
<rect x="547.17" y="692.2" width="8.35" height="49.9" opacity=".29"/>
<rect x="555.52" y="679.7" width="8.35" height="51.4" opacity=".28"/>
<rect x="563.87" y="666" width="8.35" height="52.9" opacity=".27"/>
<rect x="572.22" y="652.4" width="8.35" height="54.4" opacity=".26"/>
<rect x="580.57" y="637.3" width="8.35" height="55.8" opacity=".25"/>
<rect x="588.91" y="622.3" width="8.35" height="57.3" opacity=".25"/>
<rect x="588.91" y="1123" width="8.35" height="57.3" opacity=".25"/>
<rect x="597.26" y="604.3" width="8.35" height="62.2" opacity=".25"/>
<rect x="597.26" y="1105" width="8.35" height="62.2" opacity=".25"/>
<rect x="605.61" y="586.3" width="8.35" height="67.1" opacity=".24"/>
<rect x="605.61" y="1087" width="8.35" height="67.1" opacity=".24"/>
<rect x="613.96" y="566.7" width="8.35" height="71.9" opacity=".24"/>
<rect x="613.96" y="1067.4" width="8.35" height="71.9" opacity=".24"/>
<rect x="622.31" y="546.8" width="8.35" height="77.6" opacity=".23"/>
<rect x="622.31" y="1047.5" width="8.35" height="77.6" opacity=".23"/>
<rect x="630.66" y="525" width="8.35" height="83.4" opacity=".23"/>
<rect x="630.66" y="1025.7" width="8.35" height="83.4" opacity=".23"/>
<rect x="639.01" y="503.2" width="8.35" height="89.1" opacity=".22"/>
<rect x="639.01" y="1003.9" width="8.35" height="89.1" opacity=".22"/>
<rect x="647.35" y="480.6" width="8.35" height="91.9" opacity=".21"/>
<rect x="647.35" y="981.3" width="8.35" height="91.9" opacity=".21"/>
<rect x="655.7" y="458.1" width="8.35" height="94.7" opacity=".21"/>
<rect x="655.7" y="958.8" width="8.35" height="94.7" opacity=".21"/>
<rect x="664.05" y="433" width="8.35" height="97.6" opacity=".2"/>
<rect x="664.05" y="933.7" width="8.35" height="97.6" opacity=".2"/>
</g>
</g></g>
</g>
<g mask="url(#m3b)"><g clip-path="url(#cpb)" fill="#00007a"><use href="#chb"/></g></g>
<path d="M96.35 580.9V1081.6M104.7 580.9V1081.6M113.05 580.9V1081.6M121.39 580.9V1081.6M129.74 580.9V1081.6M138.09 580.9V1081.6M146.44 580.9V1081.6M154.79 580.9V1081.6M163.14 580.9V1081.6M171.49 580.9V1081.6M179.83 580.9V1081.6M188.18 580.9V1081.6M196.53 580.9V1081.6M204.88 580.9V1081.6M213.23 580.9V1081.6M221.58 580.9V1081.6M229.93 580.9V1081.6M238.27 580.9V1081.6M246.62 580.9V1081.6M254.97 580.9V1081.6M263.32 580.9V1081.6M271.67 580.9V1081.6M280.02 580.9V1081.6M288.37 580.9V1081.6M296.71 580.9V1081.6M305.06 580.9V1081.6M313.41 580.9V1081.6M321.76 580.9V1081.6M330.11 580.9V1081.6M338.46 580.9V1081.6M346.81 580.9V1081.6M355.15 580.9V1081.6M363.5 580.9V1081.6M371.85 580.9V1081.6M380.2 580.9V1081.6M388.55 580.9V1081.6M396.9 580.9V1081.6M405.25 580.9V1081.6M413.59 580.9V1081.6M421.94 580.9V1081.6M430.29 580.9V1081.6M438.64 580.9V1081.6M446.99 580.9V1081.6M455.34 580.9V1081.6M463.69 580.9V1081.6M472.03 580.9V1081.6M480.38 580.9V1081.6M488.73 580.9V1081.6M497.08 580.9V1081.6M505.43 580.9V1081.6M513.78 580.9V1081.6M522.13 580.9V1081.6M530.47 580.9V1081.6M538.82 580.9V1081.6M547.17 580.9V1081.6M555.52 580.9V1081.6M563.87 580.9V1081.6M572.22 580.9V1081.6M580.57 580.9V1081.6M588.91 580.9V1081.6M597.26 580.9V1081.6M605.61 580.9V1081.6M613.96 580.9V1081.6M622.31 580.9V1081.6M630.66 580.9V1081.6M639.01 580.9V1081.6M647.35 580.9V1081.6M655.7 580.9V1081.6M664.05 580.9V1081.6" stroke="#e4e4ff" stroke-width="1.45" fill="none"/>
<path d="M88 580.9V1081.6" stroke="#000" stroke-width=".7"/>
<path d="M87.6 1081.9H676.9" stroke="#000" stroke-width="1.5"/>
<g font-family="Liberation Sans, Arial, sans-serif" font-size="15" fill="#1a1a1a">
<text x="83.7" y="509.5" text-anchor="end" textLength="8.15" lengthAdjust="spacingAndGlyphs">0</text>
<text x="83.7" y="427.03" text-anchor="end" textLength="16.3" lengthAdjust="spacingAndGlyphs">50</text>
<text x="83.7" y="344.57" text-anchor="end" textLength="24.4" lengthAdjust="spacingAndGlyphs">100</text>
<text x="83.7" y="262.1" text-anchor="end" textLength="24.4" lengthAdjust="spacingAndGlyphs">150</text>
<text x="83.7" y="179.63" text-anchor="end" textLength="24.4" lengthAdjust="spacingAndGlyphs">200</text>
<text x="83.7" y="97.17" text-anchor="end" textLength="24.4" lengthAdjust="spacingAndGlyphs">250</text>
<text x="83.7" y="14.7" text-anchor="end" textLength="24.4" lengthAdjust="spacingAndGlyphs">300</text>
<text x="127.8" y="523.9" text-anchor="middle" textLength="16.3" lengthAdjust="spacingAndGlyphs">20</text>
<text x="169.18" y="523.9" text-anchor="middle" textLength="16.3" lengthAdjust="spacingAndGlyphs">40</text>
<text x="210.56" y="523.9" text-anchor="middle" textLength="16.3" lengthAdjust="spacingAndGlyphs">60</text>
<text x="251.94" y="523.9" text-anchor="middle" textLength="16.3" lengthAdjust="spacingAndGlyphs">80</text>
<text x="293.32" y="523.9" text-anchor="middle" textLength="24.4" lengthAdjust="spacingAndGlyphs">100</text>
<text x="334.7" y="523.9" text-anchor="middle" textLength="24.4" lengthAdjust="spacingAndGlyphs">120</text>
<text x="376.08" y="523.9" text-anchor="middle" textLength="24.4" lengthAdjust="spacingAndGlyphs">140</text>
<text x="417.46" y="523.9" text-anchor="middle" textLength="24.4" lengthAdjust="spacingAndGlyphs">160</text>
<text x="458.84" y="523.9" text-anchor="middle" textLength="24.4" lengthAdjust="spacingAndGlyphs">180</text>
<text x="500.22" y="523.9" text-anchor="middle" textLength="24.4" lengthAdjust="spacingAndGlyphs">200</text>
<text x="541.6" y="523.9" text-anchor="middle" textLength="24.4" lengthAdjust="spacingAndGlyphs">220</text>
<text x="582.98" y="523.9" text-anchor="middle" textLength="24.4" lengthAdjust="spacingAndGlyphs">240</text>
<text x="624.36" y="523.9" text-anchor="middle" textLength="24.4" lengthAdjust="spacingAndGlyphs">260</text>
<text x="665.74" y="523.9" text-anchor="middle" textLength="24.4" lengthAdjust="spacingAndGlyphs">280</text>
<text x="80.8" y="1086.6" text-anchor="end" textLength="8.15" lengthAdjust="spacingAndGlyphs">0</text>
<text x="80.8" y="1003.15" text-anchor="end" textLength="16.3" lengthAdjust="spacingAndGlyphs">50</text>
<text x="80.8" y="919.7" text-anchor="end" textLength="24.4" lengthAdjust="spacingAndGlyphs">100</text>
<text x="80.8" y="836.25" text-anchor="end" textLength="24.4" lengthAdjust="spacingAndGlyphs">150</text>
<text x="80.8" y="752.8" text-anchor="end" textLength="24.4" lengthAdjust="spacingAndGlyphs">200</text>
<text x="80.8" y="669.35" text-anchor="end" textLength="24.4" lengthAdjust="spacingAndGlyphs">250</text>
<text x="80.8" y="585.9" text-anchor="end" textLength="24.4" lengthAdjust="spacingAndGlyphs">300</text>
<text x="125.6" y="1101" text-anchor="middle" textLength="16.3" lengthAdjust="spacingAndGlyphs">20</text>
<text x="167.46" y="1101" text-anchor="middle" textLength="16.3" lengthAdjust="spacingAndGlyphs">40</text>
<text x="209.32" y="1101" text-anchor="middle" textLength="16.3" lengthAdjust="spacingAndGlyphs">60</text>
<text x="251.18" y="1101" text-anchor="middle" textLength="16.3" lengthAdjust="spacingAndGlyphs">80</text>
<text x="293.04" y="1101" text-anchor="middle" textLength="24.4" lengthAdjust="spacingAndGlyphs">100</text>
<text x="334.9" y="1101" text-anchor="middle" textLength="24.4" lengthAdjust="spacingAndGlyphs">120</text>
<text x="376.76" y="1101" text-anchor="middle" textLength="24.4" lengthAdjust="spacingAndGlyphs">140</text>
<text x="418.62" y="1101" text-anchor="middle" textLength="24.4" lengthAdjust="spacingAndGlyphs">160</text>
<text x="460.48" y="1101" text-anchor="middle" textLength="24.4" lengthAdjust="spacingAndGlyphs">180</text>
<text x="502.34" y="1101" text-anchor="middle" textLength="24.4" lengthAdjust="spacingAndGlyphs">200</text>
<text x="544.2" y="1101" text-anchor="middle" textLength="24.4" lengthAdjust="spacingAndGlyphs">220</text>
<text x="586.06" y="1101" text-anchor="middle" textLength="24.4" lengthAdjust="spacingAndGlyphs">240</text>
<text x="627.92" y="1101" text-anchor="middle" textLength="24.4" lengthAdjust="spacingAndGlyphs">260</text>
<text x="669.78" y="1101" text-anchor="middle" textLength="24.4" lengthAdjust="spacingAndGlyphs">280</text>
</g>
<g font-family="Liberation Sans, Arial, sans-serif" font-weight="bold" fill="#000">
<text x="5.6" y="23.6" font-size="21.5" textLength="30" lengthAdjust="spacingAndGlyphs">(a)</text>
<text x="3" y="592.6" font-size="21.5" textLength="32" lengthAdjust="spacingAndGlyphs">(b)</text>
<text x="389.5" y="553.4" font-size="18" text-anchor="middle" textLength="75" lengthAdjust="spacingAndGlyphs">Time (fs)</text>
<text x="389.8" y="1131.3" font-size="18" text-anchor="middle" textLength="75.5" lengthAdjust="spacingAndGlyphs">Time (fs)</text>
<text transform="translate(28 257.5) rotate(-90)" font-size="18.6" text-anchor="middle" textLength="134" lengthAdjust="spacingAndGlyphs">GNR Length (Å)</text>
<text transform="translate(24.5 830) rotate(-90)" font-size="18.6" text-anchor="middle" textLength="136" lengthAdjust="spacingAndGlyphs">GNR Length (Å)</text>
</g>
</svg>
</body></html>
